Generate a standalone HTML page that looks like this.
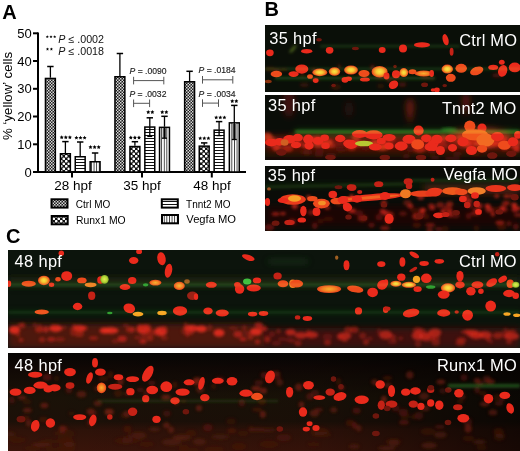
<!DOCTYPE html><html><head><meta charset="utf-8"><style>html,body{margin:0;padding:0;background:#fff;}svg{display:block;}</style></head><body>
<svg width="520" height="451" viewBox="0 0 520 451">
<defs><filter id="blur" x="-20%" y="-20%" width="140%" height="140%"><feGaussianBlur stdDeviation="0.6"/></filter><radialGradient id="yg"><stop offset="0" stop-color="#f8e444"/><stop offset="0.4" stop-color="#f4c834"/><stop offset="0.75" stop-color="#f08024"/><stop offset="1" stop-color="#e8381c"/></radialGradient><radialGradient id="og"><stop offset="0" stop-color="#f8b030"/><stop offset="0.6" stop-color="#f27a22"/><stop offset="1" stop-color="#e8401c"/></radialGradient><radialGradient id="gg"><stop offset="0" stop-color="#e0ec50"/><stop offset="0.6" stop-color="#b8d838"/><stop offset="1" stop-color="#80a828"/></radialGradient><filter id="blur15" x="-20%" y="-20%" width="140%" height="140%"><feGaussianBlur stdDeviation="1.5"/></filter><filter id="blur2" x="-20%" y="-20%" width="140%" height="140%"><feGaussianBlur stdDeviation="3"/></filter></defs>
<rect width="520" height="451" fill="#fff"/>
<defs>
<pattern id="pc" width="3" height="3" patternUnits="userSpaceOnUse"><rect width="3" height="3" fill="#1a1a1a"/><rect x="0" y="0" width="1.5" height="1.5" fill="#d8d8d8"/><rect x="1.5" y="1.5" width="1.5" height="1.5" fill="#d8d8d8"/></pattern>
<pattern id="pr" width="5" height="5" patternUnits="userSpaceOnUse"><rect width="5" height="5" fill="#111"/><circle cx="1.25" cy="1.25" r="1.35" fill="#fff"/><circle cx="3.75" cy="3.75" r="1.35" fill="#fff"/></pattern>
<pattern id="pt" width="3" height="3" patternUnits="userSpaceOnUse"><rect width="3" height="3" fill="#fff"/><rect x="0" y="0" width="3" height="1" fill="#111"/></pattern>
<pattern id="pv" width="2.6" height="3" patternUnits="userSpaceOnUse"><rect width="2.6" height="3" fill="#fff"/><rect x="0" y="0" width="0.9" height="3" fill="#333"/></pattern>
</defs>
<text x="2.2" y="18.5" font-family='"Liberation Sans", sans-serif' font-weight="bold" font-size="20" fill="#000">A</text>
<line x1="38" y1="32.5" x2="38" y2="173" stroke="#000" stroke-width="2"/>
<line x1="37" y1="172" x2="246" y2="172" stroke="#000" stroke-width="2"/>
<line x1="33" y1="33.3" x2="38" y2="33.3" stroke="#000" stroke-width="2"/>
<text x="31.8" y="37.9" text-anchor="end" font-family='"Liberation Sans", sans-serif' font-size="13" fill="#000">50</text>
<line x1="33" y1="61.0" x2="38" y2="61.0" stroke="#000" stroke-width="2"/>
<text x="31.8" y="65.6" text-anchor="end" font-family='"Liberation Sans", sans-serif' font-size="13" fill="#000">40</text>
<line x1="33" y1="88.8" x2="38" y2="88.8" stroke="#000" stroke-width="2"/>
<text x="31.8" y="93.39999999999999" text-anchor="end" font-family='"Liberation Sans", sans-serif' font-size="13" fill="#000">30</text>
<line x1="33" y1="116.5" x2="38" y2="116.5" stroke="#000" stroke-width="2"/>
<text x="31.8" y="121.1" text-anchor="end" font-family='"Liberation Sans", sans-serif' font-size="13" fill="#000">20</text>
<line x1="33" y1="144.3" x2="38" y2="144.3" stroke="#000" stroke-width="2"/>
<text x="31.8" y="148.9" text-anchor="end" font-family='"Liberation Sans", sans-serif' font-size="13" fill="#000">10</text>
<line x1="33" y1="172" x2="38" y2="172" stroke="#000" stroke-width="2"/>
<text x="31.8" y="176.6" text-anchor="end" font-family='"Liberation Sans", sans-serif' font-size="13" fill="#000">0</text>
<line x1="72" y1="172" x2="72" y2="177.5" stroke="#000" stroke-width="2"/>
<line x1="142" y1="172" x2="142" y2="177.5" stroke="#000" stroke-width="2"/>
<line x1="211.8" y1="172" x2="211.8" y2="177.5" stroke="#000" stroke-width="2"/>
<text x="73" y="190.3" text-anchor="middle" font-family='"Liberation Sans", sans-serif' font-size="13.5" fill="#000">28 hpf</text>
<text x="142" y="190.3" text-anchor="middle" font-family='"Liberation Sans", sans-serif' font-size="13.5" fill="#000">35 hpf</text>
<text x="212" y="190.3" text-anchor="middle" font-family='"Liberation Sans", sans-serif' font-size="13.5" fill="#000">48 hpf</text>
<text transform="translate(12.4,96) rotate(-90)" text-anchor="middle" font-family='"Liberation Sans", sans-serif' font-size="13.3" fill="#000">%  ‘yellow’ cells</text>
<line x1="50.400000000000006" y1="66.5" x2="50.400000000000006" y2="77.7" stroke="#000" stroke-width="1.3"/>
<line x1="47.2" y1="66.5" x2="53.60000000000001" y2="66.5" stroke="#000" stroke-width="1.5"/>
<rect x="45.45" y="78.45" width="9.9" height="93.55" fill="url(#pc)" stroke="#000" stroke-width="1.5"/>
<line x1="65.4" y1="141.6" x2="65.4" y2="153" stroke="#000" stroke-width="1.3"/>
<line x1="62.2" y1="141.6" x2="68.60000000000001" y2="141.6" stroke="#000" stroke-width="1.5"/>
<rect x="60.45" y="153.75" width="9.9" height="18.25" fill="url(#pr)" stroke="#000" stroke-width="1.5"/>
<line x1="80.2" y1="142" x2="80.2" y2="156" stroke="#000" stroke-width="1.3"/>
<line x1="77.0" y1="142" x2="83.4" y2="142" stroke="#000" stroke-width="1.5"/>
<rect x="75.25" y="156.75" width="9.9" height="15.25" fill="url(#pt)" stroke="#000" stroke-width="1.5"/>
<line x1="95.10000000000001" y1="153" x2="95.10000000000001" y2="161" stroke="#000" stroke-width="1.3"/>
<line x1="91.9" y1="153" x2="98.30000000000001" y2="153" stroke="#000" stroke-width="1.5"/>
<rect x="90.15" y="161.75" width="9.9" height="10.25" fill="url(#pv)" stroke="#000" stroke-width="1.5"/>
<line x1="119.9" y1="53.5" x2="119.9" y2="76" stroke="#000" stroke-width="1.3"/>
<line x1="116.7" y1="53.5" x2="123.10000000000001" y2="53.5" stroke="#000" stroke-width="1.5"/>
<rect x="114.95" y="76.75" width="9.9" height="95.25" fill="url(#pc)" stroke="#000" stroke-width="1.5"/>
<line x1="134.89999999999998" y1="141.7" x2="134.89999999999998" y2="145.8" stroke="#000" stroke-width="1.3"/>
<line x1="131.7" y1="141.7" x2="138.09999999999997" y2="141.7" stroke="#000" stroke-width="1.5"/>
<rect x="129.95" y="146.55" width="9.9" height="25.44999999999999" fill="url(#pr)" stroke="#000" stroke-width="1.5"/>
<line x1="149.79999999999998" y1="117.8" x2="149.79999999999998" y2="126.3" stroke="#000" stroke-width="1.3"/>
<line x1="146.6" y1="117.8" x2="152.99999999999997" y2="117.8" stroke="#000" stroke-width="1.5"/>
<rect x="144.85" y="127.05" width="9.9" height="44.95" fill="url(#pt)" stroke="#000" stroke-width="1.5"/>
<line x1="149.79999999999998" y1="126.3" x2="149.79999999999998" y2="136.4" stroke="#000" stroke-width="1.3"/>
<line x1="147.29999999999998" y1="136.4" x2="152.29999999999998" y2="136.4" stroke="#000" stroke-width="1.3"/>
<line x1="164.5" y1="116.3" x2="164.5" y2="126.6" stroke="#000" stroke-width="1.3"/>
<line x1="161.3" y1="116.3" x2="167.7" y2="116.3" stroke="#000" stroke-width="1.5"/>
<rect x="159.55" y="127.35" width="9.9" height="44.650000000000006" fill="url(#pv)" stroke="#000" stroke-width="1.5"/>
<rect x="162.7" y="128.1" width="3.6" height="10.099999999999994" fill="#666"/>
<line x1="164.5" y1="126.6" x2="164.5" y2="138.2" stroke="#000" stroke-width="1.3"/>
<line x1="162.0" y1="138.2" x2="167.0" y2="138.2" stroke="#000" stroke-width="1.3"/>
<line x1="189.6" y1="71.3" x2="189.6" y2="81" stroke="#000" stroke-width="1.3"/>
<line x1="186.4" y1="71.3" x2="192.79999999999998" y2="71.3" stroke="#000" stroke-width="1.5"/>
<rect x="184.65" y="81.75" width="9.9" height="90.25" fill="url(#pc)" stroke="#000" stroke-width="1.5"/>
<line x1="204.2" y1="142.9" x2="204.2" y2="145.4" stroke="#000" stroke-width="1.3"/>
<line x1="201.0" y1="142.9" x2="207.39999999999998" y2="142.9" stroke="#000" stroke-width="1.5"/>
<rect x="199.25" y="146.15" width="9.9" height="25.849999999999994" fill="url(#pr)" stroke="#000" stroke-width="1.5"/>
<line x1="219.1" y1="121.6" x2="219.1" y2="129.4" stroke="#000" stroke-width="1.3"/>
<line x1="215.9" y1="121.6" x2="222.29999999999998" y2="121.6" stroke="#000" stroke-width="1.5"/>
<rect x="214.15" y="130.15" width="9.9" height="41.849999999999994" fill="url(#pt)" stroke="#000" stroke-width="1.5"/>
<line x1="219.1" y1="129.4" x2="219.1" y2="135.6" stroke="#000" stroke-width="1.3"/>
<line x1="216.6" y1="135.6" x2="221.6" y2="135.6" stroke="#000" stroke-width="1.3"/>
<line x1="234.29999999999998" y1="105.4" x2="234.29999999999998" y2="122.1" stroke="#000" stroke-width="1.3"/>
<line x1="231.1" y1="105.4" x2="237.49999999999997" y2="105.4" stroke="#000" stroke-width="1.5"/>
<rect x="229.35" y="122.85" width="9.9" height="49.150000000000006" fill="url(#pv)" stroke="#000" stroke-width="1.5"/>
<rect x="232.49999999999997" y="123.6" width="3.6" height="15.900000000000006" fill="#666"/>
<line x1="234.29999999999998" y1="122.1" x2="234.29999999999998" y2="139.5" stroke="#000" stroke-width="1.3"/>
<line x1="231.79999999999998" y1="139.5" x2="236.79999999999998" y2="139.5" stroke="#000" stroke-width="1.3"/>
<polygon points="61.70,135.30 62.32,136.55 63.70,136.75 62.70,137.72 62.93,139.10 61.70,138.45 60.47,139.10 60.70,137.72 59.70,136.75 61.08,136.55" fill="#000"/>
<polygon points="65.80,135.30 66.42,136.55 67.80,136.75 66.80,137.72 67.03,139.10 65.80,138.45 64.57,139.10 64.80,137.72 63.80,136.75 65.18,136.55" fill="#000"/>
<polygon points="69.90,135.30 70.52,136.55 71.90,136.75 70.90,137.72 71.13,139.10 69.90,138.45 68.67,139.10 68.90,137.72 67.90,136.75 69.28,136.55" fill="#000"/>
<polygon points="76.40,135.70 77.02,136.95 78.40,137.15 77.40,138.12 77.63,139.50 76.40,138.85 75.17,139.50 75.40,138.12 74.40,137.15 75.78,136.95" fill="#000"/>
<polygon points="80.50,135.70 81.12,136.95 82.50,137.15 81.50,138.12 81.73,139.50 80.50,138.85 79.27,139.50 79.50,138.12 78.50,137.15 79.88,136.95" fill="#000"/>
<polygon points="84.60,135.70 85.22,136.95 86.60,137.15 85.60,138.12 85.83,139.50 84.60,138.85 83.37,139.50 83.60,138.12 82.60,137.15 83.98,136.95" fill="#000"/>
<polygon points="90.50,145.10 91.12,146.35 92.50,146.55 91.50,147.52 91.73,148.90 90.50,148.25 89.27,148.90 89.50,147.52 88.50,146.55 89.88,146.35" fill="#000"/>
<polygon points="94.60,145.10 95.22,146.35 96.60,146.55 95.60,147.52 95.83,148.90 94.60,148.25 93.37,148.90 93.60,147.52 92.60,146.55 93.98,146.35" fill="#000"/>
<polygon points="98.70,145.10 99.32,146.35 100.70,146.55 99.70,147.52 99.93,148.90 98.70,148.25 97.47,148.90 97.70,147.52 96.70,146.55 98.08,146.35" fill="#000"/>
<polygon points="130.80,135.60 131.42,136.85 132.80,137.05 131.80,138.02 132.03,139.40 130.80,138.75 129.57,139.40 129.80,138.02 128.80,137.05 130.18,136.85" fill="#000"/>
<polygon points="134.90,135.60 135.52,136.85 136.90,137.05 135.90,138.02 136.13,139.40 134.90,138.75 133.67,139.40 133.90,138.02 132.90,137.05 134.28,136.85" fill="#000"/>
<polygon points="139.00,135.60 139.62,136.85 141.00,137.05 140.00,138.02 140.23,139.40 139.00,138.75 137.77,139.40 138.00,138.02 137.00,137.05 138.38,136.85" fill="#000"/>
<polygon points="148.25,110.10 148.87,111.35 150.25,111.55 149.25,112.52 149.48,113.90 148.25,113.25 147.02,113.90 147.25,112.52 146.25,111.55 147.63,111.35" fill="#000"/>
<polygon points="152.35,110.10 152.97,111.35 154.35,111.55 153.35,112.52 153.58,113.90 152.35,113.25 151.12,113.90 151.35,112.52 150.35,111.55 151.73,111.35" fill="#000"/>
<polygon points="162.25,110.10 162.87,111.35 164.25,111.55 163.25,112.52 163.48,113.90 162.25,113.25 161.02,113.90 161.25,112.52 160.25,111.55 161.63,111.35" fill="#000"/>
<polygon points="166.35,110.10 166.97,111.35 168.35,111.55 167.35,112.52 167.58,113.90 166.35,113.25 165.12,113.90 165.35,112.52 164.35,111.55 165.73,111.35" fill="#000"/>
<polygon points="200.20,136.20 200.82,137.45 202.20,137.65 201.20,138.62 201.43,140.00 200.20,139.35 198.97,140.00 199.20,138.62 198.20,137.65 199.58,137.45" fill="#000"/>
<polygon points="204.30,136.20 204.92,137.45 206.30,137.65 205.30,138.62 205.53,140.00 204.30,139.35 203.07,140.00 203.30,138.62 202.30,137.65 203.68,137.45" fill="#000"/>
<polygon points="208.40,136.20 209.02,137.45 210.40,137.65 209.40,138.62 209.63,140.00 208.40,139.35 207.17,140.00 207.40,138.62 206.40,137.65 207.78,137.45" fill="#000"/>
<polygon points="216.20,115.40 216.82,116.65 218.20,116.85 217.20,117.82 217.43,119.20 216.20,118.55 214.97,119.20 215.20,117.82 214.20,116.85 215.58,116.65" fill="#000"/>
<polygon points="220.30,115.40 220.92,116.65 222.30,116.85 221.30,117.82 221.53,119.20 220.30,118.55 219.07,119.20 219.30,117.82 218.30,116.85 219.68,116.65" fill="#000"/>
<polygon points="224.40,115.40 225.02,116.65 226.40,116.85 225.40,117.82 225.63,119.20 224.40,118.55 223.17,119.20 223.40,117.82 222.40,116.85 223.78,116.65" fill="#000"/>
<polygon points="232.25,99.10 232.87,100.35 234.25,100.55 233.25,101.52 233.48,102.90 232.25,102.25 231.02,102.90 231.25,101.52 230.25,100.55 231.63,100.35" fill="#000"/>
<polygon points="236.35,99.10 236.97,100.35 238.35,100.55 237.35,101.52 237.58,102.90 236.35,102.25 235.12,102.90 235.35,101.52 234.35,100.55 235.73,100.35" fill="#000"/>
<text x="129.6" y="74.0" font-family='"Liberation Sans", sans-serif' font-size="8.6" fill="#222" stroke="#222" stroke-width="0.15"><tspan font-style="italic">P</tspan> = .0090</text>
<text x="129.4" y="96.6" font-family='"Liberation Sans", sans-serif' font-size="8.6" fill="#222" stroke="#222" stroke-width="0.15"><tspan font-style="italic">P</tspan> = .0032</text>
<text x="198.6" y="73.2" font-family='"Liberation Sans", sans-serif' font-size="8.6" fill="#222" stroke="#222" stroke-width="0.15"><tspan font-style="italic">P</tspan> = .0184</text>
<text x="198.6" y="96.5" font-family='"Liberation Sans", sans-serif' font-size="8.6" fill="#222" stroke="#222" stroke-width="0.15"><tspan font-style="italic">P</tspan> = .0034</text>
<path d="M133.6 76.8V84.39999999999999M133.6 80.6H163.8M163.8 76.8V84.39999999999999" stroke="#555" stroke-width="1" fill="none"/>
<path d="M133.6 99.5V107.1M133.6 103.3H149.6M149.6 99.5V107.1" stroke="#555" stroke-width="1" fill="none"/>
<path d="M202.5 76.0V83.6M202.5 79.8H232.8M232.8 76.0V83.6" stroke="#555" stroke-width="1" fill="none"/>
<path d="M202.5 99.3V106.89999999999999M202.5 103.1H218.5M218.5 99.3V106.89999999999999" stroke="#555" stroke-width="1" fill="none"/>
<polygon points="47.30,35.20 47.77,36.15 48.82,36.31 48.06,37.05 48.24,38.09 47.30,37.60 46.36,38.09 46.54,37.05 45.78,36.31 46.83,36.15" fill="#000"/>
<polygon points="51.00,35.20 51.47,36.15 52.52,36.31 51.76,37.05 51.94,38.09 51.00,37.60 50.06,38.09 50.24,37.05 49.48,36.31 50.53,36.15" fill="#000"/>
<polygon points="54.70,35.20 55.17,36.15 56.22,36.31 55.46,37.05 55.64,38.09 54.70,37.60 53.76,38.09 53.94,37.05 53.18,36.31 54.23,36.15" fill="#000"/>
<polygon points="47.50,47.50 47.97,48.45 49.02,48.61 48.26,49.35 48.44,50.39 47.50,49.90 46.56,50.39 46.74,49.35 45.98,48.61 47.03,48.45" fill="#000"/>
<polygon points="51.40,47.50 51.87,48.45 52.92,48.61 52.16,49.35 52.34,50.39 51.40,49.90 50.46,50.39 50.64,49.35 49.88,48.61 50.93,48.45" fill="#000"/>
<text x="58.3" y="42.5" font-family='"Liberation Sans", sans-serif' font-size="10.7" fill="#111"><tspan font-style="italic">P</tspan> ≤ .0002</text>
<text x="58.3" y="54.9" font-family='"Liberation Sans", sans-serif' font-size="10.7" fill="#111"><tspan font-style="italic">P</tspan> ≤ .0018</text>
<rect x="51.5" y="199.3" width="16" height="8.3" fill="url(#pc)" stroke="#000" stroke-width="2"/>
<text x="75.8" y="207.5" font-family='"Liberation Sans", sans-serif' font-size="10" fill="#000">Ctrl MO</text>
<rect x="51.7" y="216" width="16" height="8.3" fill="url(#pr)" stroke="#000" stroke-width="2"/>
<text x="76.0" y="224.2" font-family='"Liberation Sans", sans-serif' font-size="10.4" fill="#000">Runx1 MO</text>
<rect x="161.8" y="199.3" width="16" height="8.3" fill="url(#pt)" stroke="#000" stroke-width="2"/>
<text x="186.10000000000002" y="207.5" font-family='"Liberation Sans", sans-serif' font-size="10" fill="#000">Tnnt2 MO</text>
<rect x="162" y="215" width="16" height="8.3" fill="url(#pv)" stroke="#000" stroke-width="2"/>
<text x="186.3" y="223.2" font-family='"Liberation Sans", sans-serif' font-size="11.2" fill="#000">Vegfa MO</text>
<text x="264.6" y="15.7" font-family='"Liberation Sans", sans-serif' font-weight="bold" font-size="20" fill="#000">B</text>
<text x="6.0" y="242.8" font-family='"Liberation Sans", sans-serif' font-weight="bold" font-size="20" fill="#000">C</text>
<svg x="265" y="25" width="255" height="67" viewBox="0 0 255 67" overflow="hidden">
<rect width="255" height="67" fill="#0a0f08"/>
<g filter="url(#blur15)"><rect x="55" y="20.5" width="140" height="1.6" fill="#3a8a2a" opacity="0.45"/><rect x="10" y="52" width="160" height="3" fill="#2a6a20" opacity="0.25"/><ellipse cx="115.4" cy="52.3" rx="4.8" ry="2.2" fill="#8a1a10" opacity="0.36"/><ellipse cx="130.5" cy="53.9" rx="4.4" ry="1.6" fill="#6a140c" opacity="0.34"/><ellipse cx="137.4" cy="59.6" rx="3.9" ry="2.4" fill="#6a140c" opacity="0.59"/><ellipse cx="166.8" cy="53.5" rx="2.5" ry="1.5" fill="#8a1a10" opacity="0.32"/><ellipse cx="48.5" cy="45.3" rx="2.1" ry="2.2" fill="#6a140c" opacity="0.48"/><ellipse cx="49.8" cy="45.1" rx="2.9" ry="1.5" fill="#8a1a10" opacity="0.44"/><ellipse cx="70.9" cy="61.9" rx="5.0" ry="2.8" fill="#6a140c" opacity="0.39"/><ellipse cx="58.6" cy="46.4" rx="2.2" ry="2.6" fill="#6a140c" opacity="0.33"/><ellipse cx="74.2" cy="41.5" rx="2.1" ry="2.5" fill="#8a1a10" opacity="0.36"/><ellipse cx="232.1" cy="50.3" rx="4.9" ry="2.1" fill="#8a1a10" opacity="0.47"/><ellipse cx="50.6" cy="54.8" rx="3.0" ry="2.0" fill="#8a1a10" opacity="0.59"/><ellipse cx="193.3" cy="42.6" rx="2.7" ry="1.7" fill="#8a1a10" opacity="0.44"/><ellipse cx="124.1" cy="55.0" rx="2.6" ry="2.3" fill="#8a1a10" opacity="0.43"/><ellipse cx="97.9" cy="48.7" rx="5.0" ry="1.5" fill="#6a140c" opacity="0.60"/><ellipse cx="5.0" cy="44.1" rx="5.0" ry="2.4" fill="#8a1a10" opacity="0.31"/><ellipse cx="37.3" cy="49.7" rx="2.0" ry="2.4" fill="#6a140c" opacity="0.42"/><ellipse cx="18.9" cy="44.6" rx="3.9" ry="1.5" fill="#6a140c" opacity="0.41"/><ellipse cx="115.6" cy="61.1" rx="3.5" ry="2.4" fill="#6a140c" opacity="0.35"/><ellipse cx="39.3" cy="60.0" rx="4.5" ry="1.9" fill="#8a1a10" opacity="0.35"/><ellipse cx="160.4" cy="52.2" rx="4.1" ry="2.1" fill="#6a140c" opacity="0.48"/><ellipse cx="107.5" cy="42.3" rx="2.1" ry="2.9" fill="#8a1a10" opacity="0.52"/><ellipse cx="99.9" cy="49.3" rx="4.7" ry="2.2" fill="#8a1a10" opacity="0.58"/><ellipse cx="249.2" cy="42.8" rx="3.4" ry="2.5" fill="#8a1a10" opacity="0.38"/><ellipse cx="233.9" cy="44.5" rx="2.0" ry="1.9" fill="#6a140c" opacity="0.37"/><ellipse cx="11.9" cy="46.2" rx="3.6" ry="3.0" fill="#8a1a10" opacity="0.41"/></g>
<g filter="url(#blur)">
<ellipse cx="4.9" cy="27.8" rx="3.7949999999999995" ry="3.3349999999999995" fill="#ea2a1c"/>
<ellipse cx="41.7" cy="26.2" rx="5.635" ry="2.3" fill="#ea2a1c"/>
<ellipse cx="64.6" cy="25.3" rx="3.7949999999999995" ry="3.3349999999999995" fill="#ea2a1c"/>
<ellipse cx="54" cy="14.7" rx="2.875" ry="1.7249999999999999" fill="#6e180e"/>
<ellipse cx="11.4" cy="49" rx="5.75" ry="3.3349999999999995" fill="#ee4c1c"/>
<ellipse cx="28.6" cy="49" rx="5.175" ry="2.875" fill="#ea2a1c"/>
<ellipse cx="36.8" cy="44.1" rx="6.555" ry="4.6" fill="#ea2a1c"/>
<ellipse cx="45" cy="51.5" rx="2.875" ry="2.3" fill="#ee4c1c"/>
<ellipse cx="54.8" cy="47.4" rx="7.475" ry="3.7949999999999995" fill="url(#yg)"/>
<ellipse cx="69.5" cy="46.6" rx="5.75" ry="4.255" fill="url(#yg)"/>
<ellipse cx="50.7" cy="55.6" rx="2.875" ry="2.3" fill="#ea2a1c"/>
<ellipse cx="80" cy="54.8" rx="3.4499999999999997" ry="2.875" fill="#ea2a1c"/>
<ellipse cx="68.6" cy="60.5" rx="2.3" ry="1.7249999999999999" fill="#6e180e"/>
<ellipse cx="3.3" cy="56.4" rx="3.4499999999999997" ry="1.7249999999999999" fill="#8a3010"/>
<ellipse cx="90.4" cy="23.4" rx="3.4499999999999997" ry="1.7249999999999999" fill="#6e180e"/>
<ellipse cx="117.2" cy="25.1" rx="3.4499999999999997" ry="2.9899999999999998" fill="#ea2a1c"/>
<ellipse cx="138" cy="23.4" rx="4.0249999999999995" ry="4.0249999999999995" fill="#ea2a1c"/>
<ellipse cx="157" cy="19.9" rx="8.049999999999999" ry="2.53" fill="#ea2a1c"/>
<ellipse cx="86" cy="45" rx="6.8999999999999995" ry="4.484999999999999" fill="url(#yg)"/>
<ellipse cx="99" cy="48.5" rx="5.52" ry="3.4499999999999997" fill="#ee4c1c"/>
<ellipse cx="99.9" cy="54.5" rx="4.944999999999999" ry="2.07" fill="#ea2a1c"/>
<ellipse cx="83.5" cy="53.7" rx="3.4499999999999997" ry="2.3" fill="#ea2a1c"/>
<ellipse cx="114.6" cy="46.7" rx="8.049999999999999" ry="5.75" fill="url(#yg)"/>
<ellipse cx="121.5" cy="51" rx="2.9899999999999998" ry="3.4499999999999997" fill="#ea2a1c"/>
<ellipse cx="131" cy="49.3" rx="4.0249999999999995" ry="4.0249999999999995" fill="#ea2a1c"/>
<ellipse cx="138.8" cy="47.6" rx="4.484999999999999" ry="4.484999999999999" fill="url(#yg)"/>
<ellipse cx="147.5" cy="46.7" rx="4.0249999999999995" ry="2.53" fill="#ee4c1c"/>
<ellipse cx="158.7" cy="48.5" rx="8.969999999999999" ry="2.9899999999999998" fill="url(#og)"/>
<ellipse cx="128.5" cy="59.7" rx="4.944999999999999" ry="4.0249999999999995" fill="#ea2a1c" transform="rotate(-30 128.5 59.7)"/>
<ellipse cx="130" cy="41.5" rx="1.7249999999999999" ry="1.7249999999999999" fill="#6e180e"/>
<ellipse cx="159.6" cy="59.7" rx="3.4499999999999997" ry="2.3" fill="#6e180e"/>
<ellipse cx="168" cy="65" rx="2.3" ry="1.7249999999999999" fill="#ea2a1c"/>
<ellipse cx="180.6" cy="14.7" rx="2.875" ry="5.75" fill="#ea2a1c" transform="rotate(-15 180.6 14.7)"/>
<ellipse cx="186.6" cy="26.8" rx="1.9549999999999998" ry="4.0249999999999995" fill="#c42016"/>
<ellipse cx="182.3" cy="44.1" rx="5.75" ry="4.484999999999999" fill="url(#yg)"/>
<ellipse cx="196.2" cy="43.3" rx="5.75" ry="4.484999999999999" fill="#ee4c1c"/>
<ellipse cx="211.7" cy="45.9" rx="6.8999999999999995" ry="4.0249999999999995" fill="#ee4c1c" transform="rotate(-20 211.7 45.9)"/>
<ellipse cx="228.2" cy="42.4" rx="4.944999999999999" ry="2.53" fill="#ea2a1c"/>
<ellipse cx="236.8" cy="37.2" rx="2.875" ry="2.53" fill="#ea2a1c"/>
<ellipse cx="237.7" cy="45.9" rx="4.484999999999999" ry="5.9799999999999995" fill="#ea2a1c" transform="rotate(20 237.7 45.9)"/>
<ellipse cx="249.8" cy="42.4" rx="5.9799999999999995" ry="4.944999999999999" fill="#ea2a1c"/>
<ellipse cx="185.8" cy="52.8" rx="4.944999999999999" ry="4.0249999999999995" fill="#ee4c1c"/>
<ellipse cx="171.9" cy="64.9" rx="2.875" ry="2.3" fill="#ea2a1c"/>
<ellipse cx="179.7" cy="60.6" rx="2.3" ry="1.7249999999999999" fill="#6e180e"/>
<ellipse cx="166.7" cy="48.5" rx="2.3" ry="3.4499999999999997" fill="#ea2a1c"/>
</g>
<g filter="url(#blur15)" style="mix-blend-mode:screen"><rect x="10" y="52" width="160" height="2" fill="#1a6a18" opacity="0.4"/><rect x="0" y="43" width="255" height="1.6" fill="#2a8a22" opacity="0.45"/><ellipse cx="28" cy="24" rx="1.5" ry="5" fill="#6a8a20" opacity="0.6" transform="rotate(40 28 24)"/></g>
<text x="4.2" y="18.6" font-family='"Liberation Sans", sans-serif' font-size="16.4" letter-spacing="0.35" fill="#fff">35 hpf</text>
<text x="252.2" y="20.6" text-anchor="end" font-family='"Liberation Sans", sans-serif' font-size="16.4" letter-spacing="0.2" fill="#fff">Ctrl MO</text>
</svg>
<svg x="265" y="95" width="255" height="65" viewBox="0 0 255 65" overflow="hidden">
<rect width="255" height="65" fill="#0a0d08"/>
<g filter="url(#blur2)"><ellipse cx="24" cy="8" rx="6" ry="14" fill="#5a1410" opacity="0.7"/><ellipse cx="145" cy="12" rx="4" ry="9" fill="#6a1a12" opacity="0.8"/><ellipse cx="201" cy="4" rx="4" ry="5" fill="#6a1a12" opacity="0.7"/><ellipse cx="84" cy="14" rx="4" ry="8" fill="#3a1010" opacity="0.6"/><rect x="30" y="36" width="225" height="2.5" fill="#2a8a22" opacity="0.8"/><rect x="0" y="50" width="255" height="12" fill="#3a0e08" opacity="0.7"/><rect x="0" y="41" width="255" height="12" fill="#8a1a10" opacity="0.8"/><ellipse cx="215" cy="42" rx="30" ry="9" fill="#b8321a" opacity="0.8"/><ellipse cx="145" cy="16" rx="3" ry="12" fill="#7a1a12" opacity="0.8"/><ellipse cx="201" cy="10" rx="3" ry="10" fill="#7a1a12" opacity="0.7"/></g><g filter="url(#blur15)"><ellipse cx="121.0" cy="50.2" rx="5.3" ry="2.3" fill="#e02a18" opacity="0.90"/><ellipse cx="123.0" cy="50.0" rx="4.6" ry="3.7" fill="#e02a18" opacity="0.72"/><ellipse cx="168.6" cy="43.0" rx="4.5" ry="2.3" fill="#e02a18" opacity="0.52"/><ellipse cx="208.8" cy="42.0" rx="5.4" ry="2.7" fill="#c02216" opacity="0.82"/><ellipse cx="22.3" cy="53.9" rx="5.9" ry="3.3" fill="#e02a18" opacity="0.54"/><ellipse cx="251.7" cy="54.3" rx="3.4" ry="2.8" fill="#e02a18" opacity="0.72"/><ellipse cx="224.9" cy="48.8" rx="6.4" ry="3.8" fill="#e8401a" opacity="0.57"/><ellipse cx="208.0" cy="46.6" rx="4.5" ry="3.2" fill="#c02216" opacity="0.74"/><ellipse cx="138.0" cy="50.0" rx="3.3" ry="2.4" fill="#e8401a" opacity="0.60"/><ellipse cx="240.0" cy="53.1" rx="4.3" ry="2.6" fill="#c02216" opacity="0.59"/><ellipse cx="92.6" cy="48.2" rx="5.8" ry="3.0" fill="#e02a18" opacity="0.65"/><ellipse cx="219.1" cy="41.5" rx="3.1" ry="3.4" fill="#e02a18" opacity="0.66"/><ellipse cx="196.8" cy="42.4" rx="4.9" ry="2.4" fill="#e8401a" opacity="0.61"/><ellipse cx="110.5" cy="48.0" rx="5.1" ry="3.5" fill="#e8401a" opacity="0.68"/><ellipse cx="53.2" cy="44.9" rx="4.7" ry="3.9" fill="#c02216" opacity="0.60"/><ellipse cx="252.1" cy="47.5" rx="4.9" ry="2.4" fill="#e8401a" opacity="0.59"/><ellipse cx="154.8" cy="54.3" rx="6.2" ry="3.6" fill="#e02a18" opacity="0.60"/><ellipse cx="2.2" cy="41.6" rx="5.2" ry="4.0" fill="#e8401a" opacity="0.70"/><ellipse cx="6.1" cy="45.5" rx="5.8" ry="3.7" fill="#e8401a" opacity="0.55"/><ellipse cx="200.0" cy="48.0" rx="4.7" ry="2.7" fill="#e8401a" opacity="0.88"/><ellipse cx="228.1" cy="43.3" rx="4.0" ry="3.7" fill="#c02216" opacity="0.63"/><ellipse cx="219.9" cy="50.0" rx="4.6" ry="3.6" fill="#e8401a" opacity="0.61"/><ellipse cx="65.0" cy="50.6" rx="5.4" ry="2.3" fill="#c02216" opacity="0.67"/><ellipse cx="61.5" cy="47.1" rx="6.4" ry="3.1" fill="#e8401a" opacity="0.79"/><ellipse cx="238.8" cy="44.6" rx="3.1" ry="2.9" fill="#e02a18" opacity="0.86"/><ellipse cx="201.3" cy="49.1" rx="4.2" ry="2.7" fill="#e8401a" opacity="0.65"/><ellipse cx="41.0" cy="50.6" rx="3.5" ry="2.1" fill="#e02a18" opacity="0.86"/><ellipse cx="232.2" cy="48.5" rx="5.8" ry="2.8" fill="#e02a18" opacity="0.78"/><ellipse cx="48.2" cy="44.8" rx="5.8" ry="3.4" fill="#c02216" opacity="0.75"/><ellipse cx="31.8" cy="48.5" rx="5.5" ry="2.8" fill="#e02a18" opacity="0.53"/><ellipse cx="90.7" cy="42.2" rx="4.2" ry="3.4" fill="#e8401a" opacity="0.62"/><ellipse cx="177.4" cy="51.6" rx="5.3" ry="3.9" fill="#c02216" opacity="0.57"/><ellipse cx="53.3" cy="49.7" rx="4.7" ry="2.1" fill="#e8401a" opacity="0.64"/><ellipse cx="60.8" cy="45.6" rx="6.3" ry="2.0" fill="#c02216" opacity="0.65"/><ellipse cx="216.4" cy="50.6" rx="4.0" ry="3.0" fill="#e02a18" opacity="0.70"/><ellipse cx="178.0" cy="43.3" rx="4.6" ry="3.2" fill="#e8401a" opacity="0.60"/><ellipse cx="117.2" cy="53.0" rx="5.9" ry="2.5" fill="#e8401a" opacity="0.78"/><ellipse cx="201.9" cy="48.3" rx="4.5" ry="2.1" fill="#e02a18" opacity="0.72"/><ellipse cx="173.6" cy="45.9" rx="5.6" ry="2.6" fill="#c02216" opacity="0.86"/><ellipse cx="161.3" cy="43.4" rx="4.7" ry="3.6" fill="#e02a18" opacity="0.60"/><ellipse cx="11.7" cy="52.3" rx="4.0" ry="3.9" fill="#e8401a" opacity="0.61"/><ellipse cx="207.3" cy="52.1" rx="5.1" ry="2.3" fill="#c02216" opacity="0.76"/><ellipse cx="214.9" cy="49.5" rx="5.7" ry="2.8" fill="#e8401a" opacity="0.76"/><ellipse cx="86.7" cy="51.8" rx="4.7" ry="3.9" fill="#e02a18" opacity="0.57"/><ellipse cx="52.3" cy="44.6" rx="6.4" ry="3.0" fill="#e02a18" opacity="0.85"/><ellipse cx="166.5" cy="51.4" rx="5.5" ry="4.0" fill="#c02216" opacity="0.81"/><ellipse cx="219.0" cy="45.4" rx="6.1" ry="3.5" fill="#e02a18" opacity="0.72"/><ellipse cx="10.9" cy="52.3" rx="3.7" ry="2.4" fill="#c02216" opacity="0.87"/><ellipse cx="250.3" cy="51.8" rx="4.9" ry="2.0" fill="#e02a18" opacity="0.65"/><ellipse cx="127.1" cy="43.8" rx="3.3" ry="2.0" fill="#e02a18" opacity="0.82"/><ellipse cx="66.0" cy="60.2" rx="5.1" ry="2.8" fill="#5a140c" opacity="0.66"/><ellipse cx="169.9" cy="62.4" rx="4.9" ry="1.8" fill="#5a140c" opacity="0.61"/><ellipse cx="54.5" cy="55.5" rx="4.3" ry="2.8" fill="#5a140c" opacity="0.80"/><ellipse cx="212.8" cy="53.0" rx="5.4" ry="2.8" fill="#5a140c" opacity="0.73"/><ellipse cx="189.9" cy="63.4" rx="5.4" ry="1.9" fill="#5a140c" opacity="0.59"/><ellipse cx="192.5" cy="58.8" rx="4.3" ry="2.0" fill="#5a140c" opacity="0.66"/><ellipse cx="167.1" cy="56.2" rx="4.8" ry="2.5" fill="#5a140c" opacity="0.68"/><ellipse cx="141.3" cy="61.0" rx="3.4" ry="2.5" fill="#5a140c" opacity="0.61"/><ellipse cx="74.8" cy="54.2" rx="4.1" ry="2.1" fill="#5a140c" opacity="0.64"/><ellipse cx="100.9" cy="53.6" rx="4.5" ry="1.9" fill="#5a140c" opacity="0.75"/><ellipse cx="178.9" cy="53.6" rx="4.3" ry="2.4" fill="#5a140c" opacity="0.56"/><ellipse cx="183.3" cy="63.2" rx="3.1" ry="1.7" fill="#5a140c" opacity="0.66"/><ellipse cx="40.7" cy="57.0" rx="5.6" ry="2.8" fill="#5a140c" opacity="0.48"/><ellipse cx="217.7" cy="56.5" rx="5.1" ry="1.7" fill="#5a140c" opacity="0.69"/><ellipse cx="54.0" cy="59.4" rx="4.7" ry="2.4" fill="#5a140c" opacity="0.63"/><ellipse cx="145.3" cy="54.2" rx="3.6" ry="2.7" fill="#5a140c" opacity="0.76"/><ellipse cx="42.7" cy="57.1" rx="4.8" ry="2.7" fill="#5a140c" opacity="0.79"/><ellipse cx="210.5" cy="59.7" rx="4.6" ry="1.7" fill="#5a140c" opacity="0.45"/><ellipse cx="76.9" cy="55.2" rx="4.8" ry="1.6" fill="#5a140c" opacity="0.61"/><ellipse cx="217.2" cy="52.4" rx="4.0" ry="1.7" fill="#5a140c" opacity="0.49"/></g>
<g filter="url(#blur)">
<ellipse cx="6.5" cy="47.599999999999994" rx="6.5" ry="3.9000000000000004" fill="#ea2a1c"/>
<ellipse cx="14.7" cy="46.8" rx="5.2" ry="3.9000000000000004" fill="#ea2a1c"/>
<ellipse cx="24.5" cy="44.3" rx="6.5" ry="4.29" fill="#ea2a1c"/>
<ellipse cx="32.7" cy="42.699999999999996" rx="5.2" ry="3.9000000000000004" fill="#ea2a1c"/>
<ellipse cx="31" cy="50.0" rx="5.2" ry="3.25" fill="#ea2a1c"/>
<ellipse cx="43.3" cy="44.3" rx="5.2" ry="4.8100000000000005" fill="#ea2a1c"/>
<ellipse cx="44.1" cy="50.8" rx="4.55" ry="3.9000000000000004" fill="#ea2a1c"/>
<ellipse cx="53.1" cy="45.9" rx="5.2" ry="3.9000000000000004" fill="#ea2a1c"/>
<ellipse cx="59.7" cy="42.699999999999996" rx="4.29" ry="3.25" fill="#ea2a1c"/>
<ellipse cx="60.5" cy="50.8" rx="4.29" ry="3.25" fill="#ea2a1c"/>
<ellipse cx="75.2" cy="43.5" rx="5.2" ry="3.6399999999999997" fill="#ea2a1c"/>
<ellipse cx="83.4" cy="48.4" rx="5.2" ry="3.9000000000000004" fill="#ea2a1c"/>
<ellipse cx="19.6" cy="47.599999999999994" rx="3.9000000000000004" ry="3.25" fill="#d06020"/>
<ellipse cx="16.3" cy="57.4" rx="5.2" ry="3.25" fill="#6e180e"/>
<ellipse cx="65.4" cy="62.3" rx="5.2" ry="2.6" fill="#6e180e"/>
<ellipse cx="94.7" cy="39.0" rx="7.800000000000001" ry="3.9000000000000004" fill="#ea2a1c"/>
<ellipse cx="108.6" cy="39.9" rx="9.1" ry="4.55" fill="#ea2a1c"/>
<ellipse cx="124.1" cy="42.5" rx="6.5" ry="3.3800000000000003" fill="#ea2a1c"/>
<ellipse cx="86" cy="49.4" rx="6.5" ry="4.55" fill="#ea2a1c"/>
<ellipse cx="99" cy="48.5" rx="9.1" ry="2.8600000000000003" fill="#b8c830"/>
<ellipse cx="110.3" cy="52.0" rx="6.5" ry="3.3800000000000003" fill="#ea2a1c"/>
<ellipse cx="116.3" cy="45.9" rx="4.55" ry="3.25" fill="#ea2a1c"/>
<ellipse cx="124.1" cy="51.099999999999994" rx="4.55" ry="3.3800000000000003" fill="#ea2a1c"/>
<ellipse cx="136.2" cy="51.099999999999994" rx="6.5" ry="4.55" fill="#ea2a1c"/>
<ellipse cx="144" cy="44.199999999999996" rx="6.5" ry="4.55" fill="#ea2a1c"/>
<ellipse cx="153.6" cy="35.5" rx="5.07" ry="5.07" fill="#ea2a1c"/>
<ellipse cx="152.7" cy="49.4" rx="6.5" ry="5.07" fill="#ee4a1e"/>
<ellipse cx="161.3" cy="43.3" rx="5.2" ry="3.9000000000000004" fill="#ea2a1c"/>
<ellipse cx="164.8" cy="52.0" rx="5.2" ry="3.9000000000000004" fill="#ea2a1c"/>
<ellipse cx="168.3" cy="48.5" rx="5.2" ry="3.9000000000000004" fill="#ea2a1c"/>
<ellipse cx="119.8" cy="62.4" rx="5.2" ry="2.6" fill="#6e180e"/>
<ellipse cx="156" cy="62.4" rx="5.2" ry="2.6" fill="#6e180e"/>
<ellipse cx="204.8" cy="31.2" rx="5.59" ry="5.59" fill="#ee4c1c"/>
<ellipse cx="217" cy="33.0" rx="4.55" ry="4.55" fill="#ea2a1c"/>
<ellipse cx="210" cy="39.8" rx="13.0" ry="5.59" fill="#f2561c"/>
<ellipse cx="220.4" cy="45.099999999999994" rx="9.1" ry="6.5" fill="#f26a22"/>
<ellipse cx="232.5" cy="41.599999999999994" rx="6.5" ry="4.55" fill="#ea2a1c"/>
<ellipse cx="239.4" cy="50.3" rx="6.5" ry="4.55" fill="#ee4c1c"/>
<ellipse cx="248" cy="46.8" rx="5.2" ry="4.55" fill="#ea2a1c"/>
<ellipse cx="253" cy="39.8" rx="3.9000000000000004" ry="3.9000000000000004" fill="#ea2a1c"/>
<ellipse cx="171.9" cy="44.199999999999996" rx="5.59" ry="4.55" fill="#ea2a1c"/>
<ellipse cx="185.8" cy="43.3" rx="5.59" ry="3.9000000000000004" fill="#ea2a1c"/>
<ellipse cx="197.9" cy="46.8" rx="5.59" ry="4.55" fill="#ea2a1c"/>
<ellipse cx="168.5" cy="52.0" rx="3.9000000000000004" ry="3.9000000000000004" fill="#ea2a1c"/>
<ellipse cx="175.4" cy="55.5" rx="4.55" ry="4.55" fill="#ea2a1c"/>
<ellipse cx="187.5" cy="52.8" rx="4.55" ry="3.9000000000000004" fill="#ea2a1c"/>
<ellipse cx="206.5" cy="55.5" rx="5.59" ry="4.55" fill="#ea2a1c"/>
<ellipse cx="217" cy="53.8" rx="5.2" ry="3.9000000000000004" fill="#ee4c1c"/>
<ellipse cx="246.3" cy="58.8" rx="5.2" ry="3.25" fill="#6e180e"/>
<ellipse cx="227.3" cy="60.599999999999994" rx="5.2" ry="3.25" fill="#6e180e"/>
</g>
<g filter="url(#blur15)" style="mix-blend-mode:screen"><rect x="30" y="35.5" width="225" height="2.2" fill="#2a9a22" opacity="0.75"/><ellipse cx="184" cy="34" rx="8" ry="1.5" fill="#2a9a22" opacity="0.6"/></g>
<text x="3.0" y="15.6" font-family='"Liberation Sans", sans-serif' font-size="16.4" letter-spacing="0.35" fill="#fff">35 hpf</text>
<text x="251.4" y="18.6" text-anchor="end" font-family='"Liberation Sans", sans-serif' font-size="16.4" letter-spacing="0.2" fill="#fff">Tnnt2 MO</text>
</svg>
<svg x="265" y="166" width="255" height="65" viewBox="0 0 255 65" overflow="hidden">
<rect width="255" height="65" fill="#0a0c08"/>
<g filter="url(#blur2)"><rect x="0" y="18" width="255" height="2" fill="#1a4a1a" opacity="0.6"/><rect x="160" y="20" width="95" height="8" fill="#7a2810" opacity="0.6"/><rect x="0" y="40" width="255" height="20" fill="#2a0a06" opacity="0.6"/></g><g filter="url(#blur15)"><ellipse cx="246.1" cy="30.2" rx="3.5" ry="1.7" fill="#e02a1a" opacity="0.56"/><ellipse cx="224.3" cy="43.6" rx="3.7" ry="3.0" fill="#e02a1a" opacity="0.59"/><ellipse cx="118.9" cy="37.1" rx="2.8" ry="2.0" fill="#e02a1a" opacity="0.86"/><ellipse cx="203.4" cy="34.5" rx="3.8" ry="2.3" fill="#e02a1a" opacity="0.75"/><ellipse cx="214.4" cy="39.8" rx="2.9" ry="2.7" fill="#c82418" opacity="0.75"/><ellipse cx="237.2" cy="42.9" rx="2.8" ry="2.8" fill="#e02a1a" opacity="0.72"/><ellipse cx="241.0" cy="30.4" rx="2.3" ry="1.8" fill="#e02a1a" opacity="0.65"/><ellipse cx="126.2" cy="47.7" rx="2.2" ry="1.7" fill="#e02a1a" opacity="0.58"/><ellipse cx="185.0" cy="48.4" rx="2.6" ry="2.9" fill="#e02a1a" opacity="0.61"/><ellipse cx="241.8" cy="37.1" rx="2.5" ry="2.0" fill="#c82418" opacity="0.69"/><ellipse cx="121.5" cy="47.4" rx="3.6" ry="2.6" fill="#c82418" opacity="0.72"/><ellipse cx="29.4" cy="39.8" rx="2.8" ry="2.8" fill="#e02a1a" opacity="0.65"/><ellipse cx="10.6" cy="47.9" rx="3.9" ry="1.7" fill="#c82418" opacity="0.75"/><ellipse cx="222.5" cy="40.0" rx="3.0" ry="2.2" fill="#e02a1a" opacity="0.75"/><ellipse cx="117.9" cy="45.6" rx="3.2" ry="2.5" fill="#c82418" opacity="0.79"/><ellipse cx="155.8" cy="31.1" rx="3.5" ry="2.8" fill="#c82418" opacity="0.67"/><ellipse cx="157.7" cy="44.1" rx="3.2" ry="2.0" fill="#e02a1a" opacity="0.83"/><ellipse cx="227.8" cy="47.9" rx="2.0" ry="2.5" fill="#c82418" opacity="0.77"/><ellipse cx="231.7" cy="30.1" rx="2.5" ry="2.2" fill="#c82418" opacity="0.66"/><ellipse cx="62.2" cy="41.7" rx="3.0" ry="1.5" fill="#c82418" opacity="0.80"/><ellipse cx="86.7" cy="31.2" rx="2.3" ry="2.8" fill="#e02a1a" opacity="0.90"/><ellipse cx="184.6" cy="38.0" rx="3.7" ry="2.8" fill="#c82418" opacity="0.58"/><ellipse cx="87.6" cy="44.8" rx="3.1" ry="2.2" fill="#e02a1a" opacity="0.69"/><ellipse cx="201.0" cy="30.1" rx="3.6" ry="1.7" fill="#c82418" opacity="0.84"/><ellipse cx="167.2" cy="41.6" rx="3.1" ry="2.6" fill="#c82418" opacity="0.69"/><ellipse cx="249.9" cy="42.9" rx="3.3" ry="3.0" fill="#c82418" opacity="0.76"/><ellipse cx="211.8" cy="43.7" rx="3.8" ry="2.2" fill="#c82418" opacity="0.56"/><ellipse cx="85.9" cy="45.2" rx="2.7" ry="1.8" fill="#c82418" opacity="0.87"/><ellipse cx="177.8" cy="45.7" rx="2.2" ry="2.5" fill="#e02a1a" opacity="0.81"/><ellipse cx="18.0" cy="47.6" rx="2.9" ry="1.7" fill="#e02a1a" opacity="0.66"/><ellipse cx="156.5" cy="47.6" rx="2.7" ry="1.8" fill="#e02a1a" opacity="0.68"/><ellipse cx="145.2" cy="40.0" rx="3.0" ry="2.2" fill="#c82418" opacity="0.71"/><ellipse cx="43.6" cy="31.4" rx="2.5" ry="2.2" fill="#e02a1a" opacity="0.78"/><ellipse cx="249.3" cy="39.0" rx="2.8" ry="2.5" fill="#e02a1a" opacity="0.78"/><ellipse cx="253.5" cy="42.2" rx="2.9" ry="1.5" fill="#c82418" opacity="0.86"/><rect x="140" y="13.5" width="115" height="1.6" fill="#3a8a2a" opacity="0.45"/><path d="M0 21 L140 18" stroke="#4a7a2a" stroke-width="1.5" opacity="0.5"/><ellipse cx="27.2" cy="55.7" rx="4.1" ry="3.4" fill="#7a160e" opacity="0.59"/><ellipse cx="74.2" cy="38.0" rx="3.6" ry="2.7" fill="#7a160e" opacity="0.46"/><ellipse cx="231.8" cy="43.4" rx="4.7" ry="2.5" fill="#7a160e" opacity="0.44"/><ellipse cx="161.3" cy="50.5" rx="2.9" ry="3.0" fill="#7a160e" opacity="0.37"/><ellipse cx="166.2" cy="39.4" rx="3.3" ry="2.1" fill="#a01c12" opacity="0.64"/><ellipse cx="97.4" cy="52.3" rx="4.8" ry="3.3" fill="#a01c12" opacity="0.65"/><ellipse cx="175.2" cy="39.1" rx="4.0" ry="3.0" fill="#a01c12" opacity="0.65"/><ellipse cx="190.5" cy="49.6" rx="4.2" ry="2.4" fill="#c02216" opacity="0.39"/><ellipse cx="203.6" cy="50.0" rx="2.8" ry="3.2" fill="#a01c12" opacity="0.41"/><ellipse cx="30.2" cy="40.5" rx="3.5" ry="3.0" fill="#c02216" opacity="0.34"/><ellipse cx="122.5" cy="55.2" rx="3.8" ry="2.7" fill="#7a160e" opacity="0.48"/><ellipse cx="106.5" cy="59.1" rx="3.1" ry="2.6" fill="#7a160e" opacity="0.65"/><ellipse cx="239.5" cy="37.9" rx="2.9" ry="3.1" fill="#c02216" opacity="0.48"/><ellipse cx="210.5" cy="47.4" rx="5.0" ry="2.0" fill="#c02216" opacity="0.53"/><ellipse cx="239.5" cy="43.4" rx="3.3" ry="2.3" fill="#c02216" opacity="0.52"/><ellipse cx="203.4" cy="38.7" rx="2.7" ry="2.3" fill="#a01c12" opacity="0.69"/><ellipse cx="149.4" cy="43.9" rx="4.8" ry="2.5" fill="#7a160e" opacity="0.35"/><ellipse cx="243.9" cy="57.7" rx="2.5" ry="2.4" fill="#c02216" opacity="0.41"/><ellipse cx="63.4" cy="52.9" rx="4.8" ry="2.4" fill="#7a160e" opacity="0.31"/><ellipse cx="235.0" cy="56.8" rx="4.5" ry="2.2" fill="#c02216" opacity="0.64"/><ellipse cx="93.4" cy="46.8" rx="4.9" ry="2.8" fill="#7a160e" opacity="0.50"/><ellipse cx="242.8" cy="36.9" rx="4.1" ry="2.6" fill="#7a160e" opacity="0.34"/><ellipse cx="205.8" cy="39.6" rx="2.6" ry="3.4" fill="#a01c12" opacity="0.40"/><ellipse cx="114.1" cy="51.3" rx="3.5" ry="3.2" fill="#7a160e" opacity="0.58"/><ellipse cx="138.0" cy="47.7" rx="3.6" ry="2.1" fill="#c02216" opacity="0.37"/><ellipse cx="4.4" cy="61.4" rx="5.0" ry="3.3" fill="#7a160e" opacity="0.70"/><ellipse cx="151.8" cy="59.1" rx="4.3" ry="2.9" fill="#7a160e" opacity="0.41"/><ellipse cx="119.8" cy="62.1" rx="4.7" ry="2.1" fill="#c02216" opacity="0.56"/><ellipse cx="165.2" cy="59.0" rx="4.8" ry="2.1" fill="#a01c12" opacity="0.65"/><ellipse cx="211.4" cy="62.1" rx="2.7" ry="3.2" fill="#7a160e" opacity="0.32"/><ellipse cx="250.9" cy="60.8" rx="2.9" ry="3.3" fill="#7a160e" opacity="0.61"/><ellipse cx="126.3" cy="50.8" rx="3.2" ry="3.5" fill="#a01c12" opacity="0.41"/><ellipse cx="151.3" cy="50.2" rx="3.9" ry="3.2" fill="#c02216" opacity="0.70"/><ellipse cx="236.7" cy="61.2" rx="4.6" ry="2.6" fill="#7a160e" opacity="0.42"/><ellipse cx="184.8" cy="45.3" rx="3.1" ry="2.4" fill="#c02216" opacity="0.62"/><ellipse cx="180.0" cy="63.1" rx="3.8" ry="3.3" fill="#7a160e" opacity="0.31"/><ellipse cx="164.7" cy="64.0" rx="3.3" ry="2.6" fill="#c02216" opacity="0.47"/><ellipse cx="173.6" cy="63.1" rx="3.5" ry="2.3" fill="#a01c12" opacity="0.45"/><ellipse cx="182.5" cy="42.8" rx="4.5" ry="3.5" fill="#a01c12" opacity="0.63"/><ellipse cx="49.8" cy="59.8" rx="2.7" ry="3.2" fill="#7a160e" opacity="0.65"/><ellipse cx="142.4" cy="36.8" rx="4.2" ry="3.0" fill="#c02216" opacity="0.41"/><ellipse cx="253.6" cy="48.9" rx="4.7" ry="2.1" fill="#a01c12" opacity="0.58"/><ellipse cx="46.8" cy="46.4" rx="4.2" ry="2.6" fill="#c02216" opacity="0.45"/><ellipse cx="55.6" cy="55.1" rx="3.3" ry="2.8" fill="#7a160e" opacity="0.32"/><ellipse cx="155.5" cy="48.9" rx="4.8" ry="3.2" fill="#7a160e" opacity="0.66"/></g>
<g filter="url(#blur)">
<ellipse cx="27.8" cy="33.5" rx="13.0" ry="5.2" fill="#ea3a1c"/>
<ellipse cx="29.5" cy="32.5" rx="6.5" ry="3.25" fill="#f6a028"/>
<ellipse cx="18" cy="34.3" rx="5.2" ry="2.6" fill="#ea2a1c"/>
<ellipse cx="47.4" cy="32.7" rx="5.2" ry="2.6" fill="#ee4c1c"/>
<ellipse cx="56.4" cy="37.6" rx="8.450000000000001" ry="4.8100000000000005" fill="#ee4a1e"/>
<ellipse cx="57" cy="37" rx="3.9000000000000004" ry="2.3400000000000003" fill="#f39028"/>
<ellipse cx="67.8" cy="28.6" rx="4.29" ry="3.77" fill="#ea2a1c"/>
<ellipse cx="71.9" cy="35.1" rx="6.5" ry="3.25" fill="#ee4c1c"/>
<ellipse cx="80.1" cy="33.5" rx="7.15" ry="3.25" fill="#ee4c1c"/>
<ellipse cx="81.7" cy="40" rx="3.9000000000000004" ry="3.25" fill="#ea2a1c"/>
<ellipse cx="38.4" cy="45" rx="3.25" ry="5.2" fill="#ea2a1c"/>
<ellipse cx="51.5" cy="45.8" rx="3.9000000000000004" ry="4.29" fill="#ea2a1c"/>
<ellipse cx="36.8" cy="54" rx="4.29" ry="2.6" fill="#ea2a1c"/>
<ellipse cx="24.5" cy="56.4" rx="5.2" ry="2.6" fill="#c42016"/>
<ellipse cx="10.6" cy="57.2" rx="3.9000000000000004" ry="2.6" fill="#6e180e"/>
<ellipse cx="2.5" cy="36" rx="2.6" ry="3.9000000000000004" fill="#ea2a1c"/>
<ellipse cx="4" cy="22.9" rx="1.9500000000000002" ry="1.56" fill="#a05020"/>
<ellipse cx="73.5" cy="21.2" rx="3.9000000000000004" ry="1.9500000000000002" fill="#6e180e"/>
<ellipse cx="85" cy="21.2" rx="3.25" ry="2.6" fill="#c42016"/>
<ellipse cx="106" cy="31.5" rx="33.800000000000004" ry="3.3800000000000003" fill="#e8301c" transform="rotate(-4.5 106 31.5)"/>
<ellipse cx="106" cy="31.5" rx="28.6" ry="1.56" fill="#f06420" transform="rotate(-4.5 106 31.5)"/>
<ellipse cx="78" cy="34" rx="5.2" ry="3.9000000000000004" fill="#ea2a1c"/>
<ellipse cx="92" cy="33" rx="5.2" ry="3.6399999999999997" fill="#ea2a1c"/>
<ellipse cx="120" cy="30" rx="5.2" ry="3.9000000000000004" fill="#ea2a1c"/>
<ellipse cx="140.6" cy="27.7" rx="5.59" ry="4.55" fill="#f07a24"/>
<ellipse cx="157.9" cy="27.7" rx="13.0" ry="3.12" fill="#ea401c"/>
<ellipse cx="168" cy="27.5" rx="7.800000000000001" ry="3.12" fill="#e8361c"/>
<ellipse cx="86.9" cy="21.6" rx="4.55" ry="3.3800000000000003" fill="#c42016"/>
<ellipse cx="113.7" cy="18.2" rx="4.55" ry="2.8600000000000003" fill="#c42016"/>
<ellipse cx="143.2" cy="15.6" rx="4.55" ry="3.3800000000000003" fill="#c42016"/>
<ellipse cx="144" cy="19.9" rx="3.25" ry="3.25" fill="#c42016"/>
<ellipse cx="94.7" cy="26" rx="2.6" ry="1.9500000000000002" fill="#c42016"/>
<ellipse cx="82.6" cy="41.5" rx="4.55" ry="3.9000000000000004" fill="#ea2a1c"/>
<ellipse cx="119" cy="39" rx="3.25" ry="2.6" fill="#6e180e"/>
<ellipse cx="124.1" cy="52.8" rx="4.55" ry="5.07" fill="#ea2a1c"/>
<ellipse cx="99" cy="52" rx="3.25" ry="2.6" fill="#6e180e"/>
<ellipse cx="83.5" cy="51" rx="3.25" ry="2.6" fill="#6e180e"/>
<ellipse cx="154.4" cy="50.2" rx="3.9000000000000004" ry="3.25" fill="#6e180e"/>
<ellipse cx="170" cy="25" rx="7.800000000000001" ry="3.25" fill="#e8381c"/>
<ellipse cx="187.5" cy="25.1" rx="10.4" ry="3.9000000000000004" fill="#ee5a1e"/>
<ellipse cx="211.7" cy="25.1" rx="9.1" ry="3.9000000000000004" fill="#f2802a"/>
<ellipse cx="230.8" cy="22.5" rx="10.4" ry="3.3800000000000003" fill="#e8361c"/>
<ellipse cx="249.8" cy="21.6" rx="7.800000000000001" ry="3.3800000000000003" fill="#e8341c"/>
<ellipse cx="196.2" cy="26" rx="6.5" ry="3.25" fill="#ee4c1c"/>
<ellipse cx="210" cy="29.4" rx="3.9000000000000004" ry="3.25" fill="#ea2a1c"/>
<ellipse cx="197.9" cy="32.9" rx="3.9000000000000004" ry="3.25" fill="#ea2a1c"/>
<ellipse cx="202.2" cy="39" rx="3.25" ry="3.25" fill="#c42016"/>
<ellipse cx="211.7" cy="38" rx="3.25" ry="3.25" fill="#c42016"/>
<ellipse cx="213.5" cy="45.9" rx="3.3800000000000003" ry="2.8600000000000003" fill="#ea2a1c"/>
<ellipse cx="173.7" cy="49.3" rx="5.59" ry="2.8600000000000003" fill="#ea2a1c"/>
<ellipse cx="180.6" cy="48.5" rx="3.9000000000000004" ry="2.6" fill="#c42016"/>
<ellipse cx="234.2" cy="45.9" rx="3.9000000000000004" ry="2.6" fill="#6e180e"/>
<ellipse cx="249.8" cy="31.2" rx="3.9000000000000004" ry="3.25" fill="#6e180e"/>
<ellipse cx="167.6" cy="13.8" rx="1.9500000000000002" ry="1.9500000000000002" fill="#c42016"/>
<ellipse cx="191" cy="46.7" rx="3.9000000000000004" ry="2.6" fill="#6e180e"/>
</g>

<text x="2.8" y="14.6" font-family='"Liberation Sans", sans-serif' font-size="16.4" letter-spacing="0.35" fill="#fff">35 hpf</text>
<text x="253" y="14.4" text-anchor="end" font-family='"Liberation Sans", sans-serif' font-size="16.4" letter-spacing="0.2" fill="#fff">Vegfa MO</text>
</svg>
<svg x="8" y="250" width="512" height="98" viewBox="0 0 512 98" overflow="hidden">
<rect width="512" height="98" fill="#0c140c"/>
<g filter="url(#blur2)"><rect x="0" y="27" width="512" height="10" fill="#2a2a0c" opacity="0.6"/><rect x="0" y="61" width="512" height="2" fill="#2a6a2a" opacity="0.3"/><rect x="0" y="33" width="512" height="2" fill="#2a6a2a" opacity="0.4"/><rect x="0" y="74" width="256" height="24" fill="#5a140a" opacity="0.85"/><rect x="256" y="78" width="256" height="20" fill="#4a120a" opacity="0.8"/><rect x="260" y="10" width="40" height="3" fill="#2a5a2a" opacity="0.5"/></g><g filter="url(#blur15)"><ellipse cx="6.5" cy="79.9" rx="5.5" ry="4.0" fill="#e62e1e" opacity="0.9"/><ellipse cx="47.8" cy="78.4" rx="6.6" ry="3.5" fill="#e62e1e" opacity="0.9"/><ellipse cx="71.7" cy="78.3" rx="6.5" ry="3.1" fill="#e62e1e" opacity="0.9"/><ellipse cx="96.7" cy="80.6" rx="5.2" ry="3.1" fill="#e62e1e" opacity="0.9"/><ellipse cx="102.9" cy="80.5" rx="7.5" ry="3.2" fill="#e62e1e" opacity="0.9"/><ellipse cx="135.5" cy="79.3" rx="6.9" ry="4.4" fill="#e62e1e" opacity="0.9"/><ellipse cx="152.9" cy="81.5" rx="6.2" ry="4.5" fill="#e62e1e" opacity="0.9"/><ellipse cx="183.3" cy="78.3" rx="7.6" ry="3.4" fill="#e62e1e" opacity="0.9"/><ellipse cx="193.5" cy="78.9" rx="5.4" ry="3.5" fill="#e62e1e" opacity="0.9"/><ellipse cx="211" cy="82.9" rx="5.5" ry="3.9" fill="#e62e1e" opacity="0.9"/><ellipse cx="247.9" cy="81.8" rx="6.1" ry="3.8" fill="#e62e1e" opacity="0.9"/><ellipse cx="282.7" cy="82.3" rx="5.2" ry="3.3" fill="#d42a1c" opacity="0.7"/><ellipse cx="292.9" cy="85.4" rx="6.3" ry="3.5" fill="#d42a1c" opacity="0.7"/><ellipse cx="303.7" cy="84.9" rx="6.4" ry="3.4" fill="#d42a1c" opacity="0.7"/><ellipse cx="336.3" cy="86.0" rx="7.1" ry="3.4" fill="#d42a1c" opacity="0.7"/><ellipse cx="377.7" cy="84.9" rx="6.6" ry="4.3" fill="#d42a1c" opacity="0.7"/><ellipse cx="409.6" cy="85.6" rx="5.9" ry="4.5" fill="#d42a1c" opacity="0.7"/><ellipse cx="427" cy="82.6" rx="6.3" ry="4.1" fill="#d42a1c" opacity="0.7"/><ellipse cx="464" cy="82.8" rx="6.5" ry="3.1" fill="#d42a1c" opacity="0.7"/><ellipse cx="468.3" cy="85.3" rx="7.3" ry="3.9" fill="#d42a1c" opacity="0.7"/><ellipse cx="416.3" cy="86.4" rx="5.9" ry="4.0" fill="#d42a1c" opacity="0.7"/><ellipse cx="477.2" cy="85.0" rx="6.7" ry="3.7" fill="#d42a1c" opacity="0.7"/><ellipse cx="503.3" cy="86.2" rx="7.8" ry="3.7" fill="#d42a1c" opacity="0.7"/><ellipse cx="340.0" cy="79.9" rx="3.9" ry="3.5" fill="#c02418" opacity="0.49"/><ellipse cx="420.8" cy="83.3" rx="4.0" ry="1.5" fill="#c02418" opacity="0.37"/><ellipse cx="236.4" cy="77.9" rx="2.2" ry="3.0" fill="#c02418" opacity="0.36"/><ellipse cx="66.2" cy="79.2" rx="4.6" ry="1.7" fill="#c02418" opacity="0.50"/><ellipse cx="230.0" cy="84.3" rx="4.5" ry="3.2" fill="#c02418" opacity="0.74"/><ellipse cx="142.6" cy="82.1" rx="4.7" ry="3.4" fill="#c02418" opacity="0.48"/><ellipse cx="77.3" cy="78.0" rx="2.7" ry="2.5" fill="#c02418" opacity="0.42"/><ellipse cx="301.6" cy="82.9" rx="3.3" ry="2.2" fill="#c02418" opacity="0.23"/><ellipse cx="290.0" cy="93.3" rx="3.5" ry="2.7" fill="#c02418" opacity="0.48"/><ellipse cx="346.2" cy="79.8" rx="4.3" ry="3.2" fill="#c02418" opacity="0.56"/><ellipse cx="408.5" cy="84.9" rx="2.3" ry="2.8" fill="#c02418" opacity="0.37"/><ellipse cx="31.9" cy="76.1" rx="2.5" ry="2.2" fill="#c02418" opacity="0.40"/><ellipse cx="26.9" cy="75.0" rx="2.3" ry="2.2" fill="#c02418" opacity="0.38"/><ellipse cx="13.1" cy="89.9" rx="2.4" ry="2.0" fill="#c02418" opacity="0.61"/><ellipse cx="177.9" cy="81.2" rx="4.5" ry="3.5" fill="#c02418" opacity="0.36"/><ellipse cx="238.6" cy="83.2" rx="2.3" ry="2.2" fill="#c02418" opacity="0.34"/><ellipse cx="135.6" cy="89.1" rx="2.1" ry="3.4" fill="#c02418" opacity="0.38"/><ellipse cx="270.5" cy="81.2" rx="2.1" ry="2.6" fill="#c02418" opacity="0.43"/><ellipse cx="501.0" cy="91.9" rx="2.8" ry="2.2" fill="#c02418" opacity="0.49"/><ellipse cx="85.5" cy="88.1" rx="4.3" ry="2.2" fill="#c02418" opacity="0.57"/><ellipse cx="114.2" cy="88.8" rx="4.6" ry="3.1" fill="#c02418" opacity="0.79"/><ellipse cx="419.0" cy="90.1" rx="3.6" ry="2.2" fill="#c02418" opacity="0.31"/><ellipse cx="14.8" cy="75.5" rx="2.8" ry="2.9" fill="#c02418" opacity="0.44"/><ellipse cx="489.7" cy="85.7" rx="5.0" ry="3.4" fill="#c02418" opacity="0.58"/><ellipse cx="186.7" cy="78.7" rx="2.6" ry="1.9" fill="#c02418" opacity="0.41"/><ellipse cx="319.5" cy="92.5" rx="3.4" ry="2.8" fill="#c02418" opacity="0.54"/><ellipse cx="409.4" cy="80.3" rx="4.7" ry="3.1" fill="#c02418" opacity="0.47"/><ellipse cx="384.1" cy="86.2" rx="4.4" ry="2.2" fill="#c02418" opacity="0.29"/><ellipse cx="410.0" cy="93.6" rx="3.2" ry="3.4" fill="#c02418" opacity="0.37"/><ellipse cx="371.1" cy="81.6" rx="2.5" ry="3.3" fill="#c02418" opacity="0.27"/><ellipse cx="412.9" cy="81.2" rx="4.9" ry="2.8" fill="#c02418" opacity="0.53"/><ellipse cx="179.4" cy="84.3" rx="2.0" ry="3.4" fill="#c02418" opacity="0.37"/><ellipse cx="332.6" cy="86.9" rx="3.3" ry="3.2" fill="#c02418" opacity="0.58"/><ellipse cx="423.0" cy="82.2" rx="2.9" ry="2.0" fill="#c02418" opacity="0.32"/><ellipse cx="300.3" cy="82.9" rx="2.4" ry="3.3" fill="#c02418" opacity="0.38"/><ellipse cx="181.1" cy="82.8" rx="4.7" ry="2.3" fill="#c02418" opacity="0.59"/><ellipse cx="469.9" cy="86.5" rx="3.6" ry="1.5" fill="#c02418" opacity="0.42"/><ellipse cx="225.3" cy="78.1" rx="4.4" ry="1.8" fill="#c02418" opacity="0.30"/><ellipse cx="242.4" cy="87.3" rx="3.0" ry="2.5" fill="#c02418" opacity="0.58"/><ellipse cx="284.4" cy="90.8" rx="3.7" ry="2.0" fill="#c02418" opacity="0.26"/><ellipse cx="141.8" cy="88.1" rx="3.7" ry="3.0" fill="#c02418" opacity="0.55"/><ellipse cx="467.2" cy="85.6" rx="3.5" ry="2.5" fill="#c02418" opacity="0.45"/><ellipse cx="354.7" cy="85.8" rx="3.4" ry="3.4" fill="#c02418" opacity="0.42"/><ellipse cx="358.0" cy="92.1" rx="2.8" ry="2.6" fill="#c02418" opacity="0.58"/><ellipse cx="483.0" cy="91.6" rx="2.4" ry="2.4" fill="#c02418" opacity="0.28"/><ellipse cx="37.1" cy="79.1" rx="4.0" ry="3.1" fill="#c02418" opacity="0.34"/><ellipse cx="459.3" cy="81.3" rx="4.0" ry="1.8" fill="#c02418" opacity="0.49"/><ellipse cx="452.0" cy="93.5" rx="4.9" ry="2.3" fill="#c02418" opacity="0.31"/><ellipse cx="249.5" cy="91.8" rx="2.5" ry="2.4" fill="#c02418" opacity="0.72"/><ellipse cx="264.0" cy="84.1" rx="3.0" ry="2.9" fill="#c02418" opacity="0.30"/><ellipse cx="10.0" cy="84.4" rx="2.1" ry="2.2" fill="#c02418" opacity="0.52"/><ellipse cx="319.5" cy="86.7" rx="5.0" ry="3.1" fill="#c02418" opacity="0.25"/><ellipse cx="497.5" cy="80.6" rx="2.1" ry="3.1" fill="#c02418" opacity="0.32"/><ellipse cx="138.5" cy="77.2" rx="4.7" ry="3.1" fill="#c02418" opacity="0.51"/><ellipse cx="132.4" cy="77.5" rx="3.7" ry="2.9" fill="#c02418" opacity="0.76"/><ellipse cx="45.8" cy="76.0" rx="3.3" ry="1.6" fill="#c02418" opacity="0.64"/><ellipse cx="480.4" cy="88.5" rx="2.3" ry="3.2" fill="#c02418" opacity="0.53"/><ellipse cx="34.1" cy="89.7" rx="3.0" ry="2.6" fill="#c02418" opacity="0.53"/><ellipse cx="474.5" cy="83.0" rx="3.6" ry="2.0" fill="#c02418" opacity="0.27"/><ellipse cx="56.0" cy="77.7" rx="2.6" ry="2.1" fill="#c02418" opacity="0.33"/><ellipse cx="156.2" cy="87.9" rx="3.5" ry="1.9" fill="#c02418" opacity="0.44"/><ellipse cx="177.7" cy="75.3" rx="2.0" ry="3.0" fill="#c02418" opacity="0.43"/><ellipse cx="282.1" cy="81.8" rx="4.8" ry="1.7" fill="#c02418" opacity="0.40"/><ellipse cx="419.3" cy="85.5" rx="4.5" ry="2.3" fill="#c02418" opacity="0.41"/><ellipse cx="259.4" cy="89.3" rx="3.0" ry="3.2" fill="#c02418" opacity="0.59"/><ellipse cx="361.8" cy="88.5" rx="3.0" ry="1.6" fill="#c02418" opacity="0.38"/><ellipse cx="66.5" cy="76.2" rx="2.8" ry="1.8" fill="#c02418" opacity="0.67"/><ellipse cx="43.3" cy="89.3" rx="4.0" ry="2.1" fill="#c02418" opacity="0.74"/><ellipse cx="124.0" cy="80.0" rx="2.5" ry="2.4" fill="#c02418" opacity="0.53"/><ellipse cx="134.8" cy="91.4" rx="3.6" ry="2.0" fill="#c02418" opacity="0.79"/><ellipse cx="494.4" cy="83.6" rx="2.0" ry="2.3" fill="#c02418" opacity="0.36"/><ellipse cx="243.0" cy="83.5" rx="3.5" ry="1.5" fill="#c02418" opacity="0.40"/><ellipse cx="135.3" cy="76.5" rx="2.1" ry="1.5" fill="#c02418" opacity="0.50"/><ellipse cx="155.8" cy="79.0" rx="3.6" ry="3.0" fill="#c02418" opacity="0.59"/><ellipse cx="336.7" cy="89.7" rx="3.2" ry="2.2" fill="#c02418" opacity="0.55"/><ellipse cx="504.2" cy="81.2" rx="3.9" ry="1.6" fill="#c02418" opacity="0.50"/><ellipse cx="427.7" cy="92.4" rx="4.2" ry="3.1" fill="#c02418" opacity="0.46"/><ellipse cx="71.3" cy="83.9" rx="4.5" ry="3.1" fill="#c02418" opacity="0.55"/><ellipse cx="423.1" cy="87.8" rx="4.0" ry="2.9" fill="#c02418" opacity="0.56"/><ellipse cx="117.7" cy="75.5" rx="3.1" ry="1.7" fill="#c02418" opacity="0.37"/><ellipse cx="427.9" cy="87.4" rx="3.9" ry="2.9" fill="#c02418" opacity="0.46"/><ellipse cx="250.5" cy="75.1" rx="4.2" ry="2.5" fill="#c02418" opacity="0.70"/><ellipse cx="274.0" cy="88.9" rx="4.2" ry="2.0" fill="#c02418" opacity="0.25"/><ellipse cx="38.1" cy="79.5" rx="2.6" ry="3.0" fill="#c02418" opacity="0.66"/><ellipse cx="499.6" cy="86.4" rx="3.4" ry="2.9" fill="#c02418" opacity="0.37"/><ellipse cx="392.7" cy="88.3" rx="2.2" ry="1.8" fill="#c02418" opacity="0.47"/><ellipse cx="130.0" cy="87.6" rx="3.7" ry="1.5" fill="#c02418" opacity="0.45"/><ellipse cx="31.1" cy="79.6" rx="4.1" ry="2.9" fill="#c02418" opacity="0.64"/><ellipse cx="148.9" cy="83.8" rx="3.4" ry="1.7" fill="#c02418" opacity="0.53"/><ellipse cx="457.6" cy="82.0" rx="4.8" ry="1.5" fill="#c02418" opacity="0.59"/><ellipse cx="235.0" cy="88.9" rx="3.3" ry="2.0" fill="#c02418" opacity="0.78"/><ellipse cx="107.4" cy="91.1" rx="3.7" ry="1.8" fill="#c02418" opacity="0.41"/><ellipse cx="268.3" cy="93.3" rx="4.5" ry="2.5" fill="#c02418" opacity="0.27"/><ellipse cx="454.1" cy="89.6" rx="4.7" ry="2.5" fill="#c02418" opacity="0.31"/><ellipse cx="12.7" cy="75.1" rx="3.4" ry="2.1" fill="#c02418" opacity="0.55"/><ellipse cx="72.0" cy="80.8" rx="4.5" ry="1.5" fill="#c02418" opacity="0.46"/><ellipse cx="384.4" cy="91.6" rx="4.8" ry="2.9" fill="#c02418" opacity="0.27"/><ellipse cx="461.6" cy="83.3" rx="3.2" ry="3.5" fill="#c02418" opacity="0.36"/><ellipse cx="301.7" cy="84.4" rx="2.8" ry="1.6" fill="#c02418" opacity="0.39"/><ellipse cx="52.1" cy="89.2" rx="4.8" ry="2.0" fill="#c02418" opacity="0.44"/><ellipse cx="136.1" cy="83.7" rx="3.1" ry="3.4" fill="#c02418" opacity="0.39"/><ellipse cx="452.7" cy="91.2" rx="4.7" ry="3.4" fill="#c02418" opacity="0.46"/><ellipse cx="281.2" cy="89.8" rx="4.2" ry="2.4" fill="#c02418" opacity="0.24"/><ellipse cx="385.4" cy="88.7" rx="2.1" ry="3.4" fill="#c02418" opacity="0.33"/><ellipse cx="65.2" cy="83.0" rx="2.9" ry="3.0" fill="#c02418" opacity="0.47"/><ellipse cx="499.9" cy="82.9" rx="2.9" ry="2.6" fill="#c02418" opacity="0.47"/><ellipse cx="201.9" cy="77.8" rx="2.6" ry="3.3" fill="#c02418" opacity="0.38"/><ellipse cx="254.5" cy="78.7" rx="5.0" ry="2.4" fill="#c02418" opacity="0.75"/><ellipse cx="71.5" cy="78.3" rx="3.0" ry="1.7" fill="#c02418" opacity="0.35"/><ellipse cx="122.4" cy="79.4" rx="4.7" ry="3.0" fill="#c02418" opacity="0.58"/></g>
<g filter="url(#blur)">
<ellipse cx="20.7" cy="33.7" rx="7.15" ry="2.9700000000000006" fill="#ee4c1c"/>
<ellipse cx="35.9" cy="30.4" rx="5.940000000000001" ry="4.73" fill="url(#yg)"/>
<ellipse cx="43.5" cy="34.8" rx="2.75" ry="2.2" fill="#ea2a1c"/>
<ellipse cx="58.7" cy="26.1" rx="5.5" ry="4.95" fill="#ea2a1c"/>
<ellipse cx="50" cy="29.3" rx="2.75" ry="2.2" fill="#ee4c1c"/>
<ellipse cx="73.9" cy="30.4" rx="4.73" ry="2.9700000000000006" fill="#ee4c1c"/>
<ellipse cx="82.6" cy="34.8" rx="5.940000000000001" ry="2.4200000000000004" fill="#f07a20"/>
<ellipse cx="92.5" cy="30" rx="3.3000000000000003" ry="3.8500000000000005" fill="#ea2a1c"/>
<ellipse cx="96.5" cy="29.3" rx="4.18" ry="4.4" fill="url(#gg)"/>
<ellipse cx="1" cy="33.7" rx="2.2" ry="3.3000000000000003" fill="#ea2a1c"/>
<ellipse cx="53.3" cy="3.3" rx="2.75" ry="2.75" fill="#ea2a1c"/>
<ellipse cx="83.7" cy="45.7" rx="3.63" ry="4.18" fill="#c42016"/>
<ellipse cx="69.6" cy="56.5" rx="4.73" ry="3.63" fill="#ea2a1c"/>
<ellipse cx="33.7" cy="62" rx="7.15" ry="2.4200000000000004" fill="#ee4c1c"/>
<ellipse cx="131.1" cy="1.7" rx="2.9700000000000006" ry="2.4200000000000004" fill="#ea2a1c"/>
<ellipse cx="125.7" cy="10.4" rx="4.73" ry="3.5200000000000005" fill="#ea2a1c"/>
<ellipse cx="153.5" cy="8.7" rx="4.18" ry="6.6000000000000005" fill="#ea2a1c" transform="rotate(-10 153.5 8.7)"/>
<ellipse cx="160.5" cy="20.7" rx="3.63" ry="7.15" fill="#ea2a1c" transform="rotate(10 160.5 20.7)"/>
<ellipse cx="124.2" cy="30.4" rx="4.18" ry="3.5200000000000005" fill="#ea2a1c"/>
<ellipse cx="117" cy="37" rx="5.390000000000001" ry="2.9700000000000006" fill="#ea2a1c"/>
<ellipse cx="147.4" cy="32.6" rx="5.940000000000001" ry="2.9700000000000006" fill="url(#og)"/>
<ellipse cx="171.3" cy="35.9" rx="5.5" ry="4.18" fill="url(#og)"/>
<ellipse cx="137.6" cy="34.8" rx="2.75" ry="1.6500000000000001" fill="#2e9a2e"/>
<ellipse cx="184.4" cy="45.7" rx="5.390000000000001" ry="4.18" fill="#9a2014"/>
<ellipse cx="121.3" cy="58.3" rx="5.940000000000001" ry="4.73" fill="#ea2a1c" transform="rotate(20 121.3 58.3)"/>
<ellipse cx="130" cy="64.1" rx="5.390000000000001" ry="2.4200000000000004" fill="#f7a424"/>
<ellipse cx="154" cy="63" rx="4.73" ry="2.2" fill="#f7a424"/>
<ellipse cx="172" cy="60.9" rx="7.15" ry="4.73" fill="#ea2a1c"/>
<ellipse cx="101.8" cy="63" rx="2.75" ry="1.32" fill="#2e9a2e"/>
<ellipse cx="179" cy="31.5" rx="2.75" ry="2.2" fill="#a06020"/>
<ellipse cx="240.3" cy="7.6" rx="6.6000000000000005" ry="2.75" fill="#ea2a1c" transform="rotate(20 240.3 7.6)"/>
<ellipse cx="203.3" cy="34.8" rx="5.5" ry="2.9700000000000006" fill="#ea2a1c"/>
<ellipse cx="231.6" cy="39.1" rx="4.73" ry="4.73" fill="#ea2a1c"/>
<ellipse cx="229.4" cy="34.8" rx="3.3000000000000003" ry="2.75" fill="#ea2a1c"/>
<ellipse cx="239.2" cy="31.5" rx="4.18" ry="2.9700000000000006" fill="#40c040"/>
<ellipse cx="249" cy="30.4" rx="4.18" ry="2.9700000000000006" fill="#ea2a1c"/>
<ellipse cx="245.7" cy="38" rx="7.15" ry="3.5200000000000005" fill="#ea2a1c"/>
<ellipse cx="269.6" cy="26" rx="4.18" ry="3.5200000000000005" fill="#c42016"/>
<ellipse cx="275" cy="33.7" rx="5.390000000000001" ry="3.5200000000000005" fill="#ee4c1c"/>
<ellipse cx="284.8" cy="33.7" rx="3.63" ry="4.18" fill="#f37a22"/>
<ellipse cx="188" cy="46.7" rx="2.2" ry="3.3000000000000003" fill="#ea2a1c"/>
<ellipse cx="200" cy="61" rx="4.73" ry="3.5200000000000005" fill="#ea2a1c"/>
<ellipse cx="214.2" cy="63" rx="6.6000000000000005" ry="3.5200000000000005" fill="#ea2a1c"/>
<ellipse cx="244.6" cy="64.1" rx="4.73" ry="2.4200000000000004" fill="#ea2a1c"/>
<ellipse cx="255.5" cy="63.5" rx="4.73" ry="2.4200000000000004" fill="#ea2a1c"/>
<ellipse cx="338.5" cy="15.2" rx="2.9700000000000006" ry="4.95" fill="#ea2a1c"/>
<ellipse cx="373.3" cy="14.1" rx="4.18" ry="2.9700000000000006" fill="#ea2a1c"/>
<ellipse cx="328.7" cy="7.6" rx="1.6500000000000001" ry="2.2" fill="#a06020"/>
<ellipse cx="288.5" cy="33.7" rx="6.6000000000000005" ry="3.8500000000000005" fill="#ee4c1c"/>
<ellipse cx="321.1" cy="39.1" rx="12.100000000000001" ry="3.9600000000000004" fill="url(#og)"/>
<ellipse cx="347.2" cy="39.1" rx="8.25" ry="3.3000000000000003" fill="#ee4c1c" transform="rotate(10 347.2 39.1)"/>
<ellipse cx="364.6" cy="42.4" rx="5.390000000000001" ry="4.73" fill="#ea2a1c"/>
<ellipse cx="374.4" cy="34.8" rx="5.390000000000001" ry="4.73" fill="#ea2a1c" transform="rotate(-30 374.4 34.8)"/>
<ellipse cx="350.5" cy="60.9" rx="3.63" ry="3.63" fill="#ea2a1c"/>
<ellipse cx="299.4" cy="68.5" rx="4.73" ry="2.4200000000000004" fill="#ea2a1c"/>
<ellipse cx="289.6" cy="67.4" rx="2.75" ry="2.2" fill="#c42016"/>
<ellipse cx="377.7" cy="59.8" rx="2.75" ry="3.3000000000000003" fill="#ea2a1c"/>
<ellipse cx="406.3" cy="4.8" rx="5.390000000000001" ry="2.4200000000000004" fill="#ea2a1c" transform="rotate(30 406.3 4.8)"/>
<ellipse cx="394.4" cy="12" rx="2.9700000000000006" ry="4.73" fill="#ea2a1c"/>
<ellipse cx="416.1" cy="13.5" rx="4.73" ry="2.4200000000000004" fill="#ea2a1c"/>
<ellipse cx="431.3" cy="11.3" rx="4.73" ry="2.4200000000000004" fill="#ea2a1c"/>
<ellipse cx="405.3" cy="19.6" rx="4.4" ry="1.6500000000000001" fill="#c42016" transform="rotate(-30 405.3 19.6)"/>
<ellipse cx="393.3" cy="27.2" rx="4.18" ry="3.63" fill="#ea2a1c"/>
<ellipse cx="408.5" cy="29.3" rx="3.63" ry="3.63" fill="#f7a424"/>
<ellipse cx="418.3" cy="28.3" rx="5.390000000000001" ry="4.73" fill="#ea2a1c"/>
<ellipse cx="378" cy="32.6" rx="2.2" ry="3.3000000000000003" fill="#ea2a1c"/>
<ellipse cx="387.9" cy="33.7" rx="5.5" ry="2.9700000000000006" fill="url(#yg)"/>
<ellipse cx="400.9" cy="34.8" rx="7.15" ry="2.9700000000000006" fill="url(#yg)"/>
<ellipse cx="409.6" cy="39.1" rx="4.18" ry="2.9700000000000006" fill="#ea2a1c"/>
<ellipse cx="422.7" cy="37" rx="4.73" ry="1.7600000000000002" fill="#2e9a2e"/>
<ellipse cx="440" cy="38" rx="7.15" ry="4.73" fill="url(#yg)"/>
<ellipse cx="435.7" cy="44.6" rx="5.940000000000001" ry="4.18" fill="#ea2a1c"/>
<ellipse cx="452" cy="26.1" rx="3.63" ry="5.390000000000001" fill="#ea2a1c"/>
<ellipse cx="452" cy="34.8" rx="4.73" ry="3.63" fill="#ea2a1c"/>
<ellipse cx="462.9" cy="41.3" rx="4.73" ry="4.18" fill="#ea2a1c"/>
<ellipse cx="469.4" cy="34.8" rx="5.940000000000001" ry="3.63" fill="#ea2a1c"/>
<ellipse cx="403.1" cy="63" rx="8.36" ry="4.18" fill="#ea2a1c" transform="rotate(-10 403.1 63)"/>
<ellipse cx="435.7" cy="63" rx="6.6000000000000005" ry="3.63" fill="#ea2a1c"/>
<ellipse cx="459.6" cy="65.2" rx="5.390000000000001" ry="5.5" fill="#ea2a1c"/>
<ellipse cx="379.2" cy="58.7" rx="3.3000000000000003" ry="2.2" fill="#c42016"/>
<ellipse cx="448.7" cy="62" rx="2.2" ry="1.6500000000000001" fill="#c42016"/>
<ellipse cx="483.7" cy="32.6" rx="5.940000000000001" ry="3.63" fill="#ea2a1c" transform="rotate(-30 483.7 32.6)"/>
<ellipse cx="494.6" cy="29.3" rx="4.73" ry="2.9700000000000006" fill="#ea2a1c" transform="rotate(-30 494.6 29.3)"/>
<ellipse cx="502.2" cy="33.7" rx="3.63" ry="4.18" fill="#ee4c1c"/>
<ellipse cx="507.7" cy="34.8" rx="3.63" ry="2.9700000000000006" fill="url(#gg)"/>
<ellipse cx="501.1" cy="43.5" rx="5.940000000000001" ry="3.63" fill="#ea2a1c"/>
<ellipse cx="507.7" cy="45.7" rx="3.3000000000000003" ry="3.3000000000000003" fill="#ea2a1c"/>
<ellipse cx="482.7" cy="56.1" rx="5.390000000000001" ry="5.5" fill="#ea2a1c"/>
<ellipse cx="499" cy="64.1" rx="3.63" ry="1.7600000000000002" fill="#f7a424"/>
<ellipse cx="508.7" cy="65.2" rx="3.63" ry="1.7600000000000002" fill="#f7a424"/>
<ellipse cx="472.9" cy="41.3" rx="2.75" ry="2.75" fill="#ea2a1c"/>
<ellipse cx="489.2" cy="4.3" rx="2.2" ry="2.2" fill="#c42016"/>
</g>
<g filter="url(#blur15)" style="mix-blend-mode:screen"><rect x="0" y="61.5" width="512" height="1.6" fill="#2a8a2a" opacity="0.35"/><rect x="0" y="34" width="512" height="1.8" fill="#2a8a2a" opacity="0.45"/></g>
<text x="6.6" y="17.2" font-family='"Liberation Sans", sans-serif' font-size="16.4" letter-spacing="0.35" fill="#fff">48 hpf</text>
<text x="508.8" y="17.3" text-anchor="end" font-family='"Liberation Sans", sans-serif' font-size="16.4" letter-spacing="0.2" fill="#fff">Ctrl MO</text>
</svg>
<svg x="8" y="353" width="512" height="98" viewBox="0 0 512 98" overflow="hidden">
<rect width="512" height="98" fill="#0a0a06"/>
<defs><linearGradient id="c2v" x1="0" x2="0" y1="0" y2="1"><stop offset="0" stop-color="#060504"/><stop offset="0.15" stop-color="#100805"/><stop offset="0.45" stop-color="#1a1208"/><stop offset="0.7" stop-color="#1c1008"/><stop offset="0.78" stop-color="#2e1209"/><stop offset="1" stop-color="#3a140a"/></linearGradient><linearGradient id="c2h" x1="0" x2="1" y1="0" y2="0"><stop offset="0" stop-color="#000" stop-opacity="0"/><stop offset="0.6" stop-color="#000" stop-opacity="0.1"/><stop offset="1" stop-color="#000" stop-opacity="0.6"/></linearGradient></defs><rect width="512" height="98" fill="url(#c2v)"/><rect width="512" height="98" fill="url(#c2h)"/><g filter="url(#blur15)"><ellipse cx="84.5" cy="60.0" rx="4.1" ry="3.0" fill="#5a140c" opacity="0.70"/><ellipse cx="243.0" cy="75.9" rx="3.0" ry="3.1" fill="#5a140c" opacity="0.31"/><ellipse cx="477.6" cy="44.8" rx="2.9" ry="3.5" fill="#5a140c" opacity="0.58"/><ellipse cx="223.7" cy="77.7" rx="4.4" ry="2.8" fill="#7a1c10" opacity="0.31"/><ellipse cx="168.4" cy="48.9" rx="2.8" ry="3.9" fill="#7a1c10" opacity="0.31"/><ellipse cx="379.4" cy="25.1" rx="4.5" ry="2.0" fill="#5a140c" opacity="0.52"/><ellipse cx="175.6" cy="48.1" rx="3.0" ry="2.1" fill="#5a140c" opacity="0.33"/><ellipse cx="101.1" cy="59.1" rx="4.5" ry="3.3" fill="#8a2214" opacity="0.70"/><ellipse cx="36.3" cy="52.5" rx="3.9" ry="2.8" fill="#7a1c10" opacity="0.67"/><ellipse cx="454.4" cy="43.8" rx="3.4" ry="2.9" fill="#7a1c10" opacity="0.43"/><ellipse cx="248.0" cy="35.4" rx="4.6" ry="2.3" fill="#8a2214" opacity="0.70"/><ellipse cx="254.0" cy="48.5" rx="3.9" ry="3.5" fill="#5a140c" opacity="0.53"/><ellipse cx="163.1" cy="76.8" rx="2.8" ry="3.3" fill="#8a2214" opacity="0.44"/><ellipse cx="474.7" cy="40.1" rx="4.0" ry="2.6" fill="#5a140c" opacity="0.37"/><ellipse cx="472.6" cy="30.1" rx="3.6" ry="2.3" fill="#5a140c" opacity="0.57"/><ellipse cx="460.1" cy="75.6" rx="3.5" ry="4.0" fill="#8a2214" opacity="0.54"/><ellipse cx="452.2" cy="48.5" rx="3.4" ry="2.5" fill="#5a140c" opacity="0.36"/><ellipse cx="35.5" cy="66.7" rx="4.4" ry="3.0" fill="#7a1c10" opacity="0.32"/><ellipse cx="132.1" cy="36.8" rx="3.5" ry="2.3" fill="#5a140c" opacity="0.65"/><ellipse cx="330.5" cy="28.5" rx="2.9" ry="3.5" fill="#5a140c" opacity="0.40"/><ellipse cx="490.9" cy="50.5" rx="4.3" ry="2.1" fill="#5a140c" opacity="0.66"/><ellipse cx="187.3" cy="28.9" rx="3.4" ry="3.5" fill="#7a1c10" opacity="0.53"/><ellipse cx="434.9" cy="37.9" rx="3.8" ry="2.6" fill="#8a2214" opacity="0.30"/><ellipse cx="350.9" cy="75.3" rx="2.6" ry="3.2" fill="#8a2214" opacity="0.40"/><ellipse cx="489.3" cy="44.4" rx="4.2" ry="3.5" fill="#5a140c" opacity="0.35"/><ellipse cx="48.6" cy="25.4" rx="2.6" ry="2.9" fill="#5a140c" opacity="0.33"/><ellipse cx="61.0" cy="36.3" rx="3.3" ry="3.9" fill="#7a1c10" opacity="0.50"/><ellipse cx="112.4" cy="29.6" rx="3.0" ry="2.8" fill="#8a2214" opacity="0.60"/><ellipse cx="387.6" cy="55.0" rx="3.8" ry="3.5" fill="#5a140c" opacity="0.62"/><ellipse cx="4.0" cy="46.9" rx="2.7" ry="3.5" fill="#5a140c" opacity="0.64"/><ellipse cx="119.5" cy="75.9" rx="4.0" ry="3.5" fill="#5a140c" opacity="0.46"/><ellipse cx="158.4" cy="72.2" rx="3.2" ry="3.0" fill="#8a2214" opacity="0.50"/><ellipse cx="293.4" cy="51.6" rx="2.7" ry="3.2" fill="#7a1c10" opacity="0.69"/><ellipse cx="158.8" cy="60.6" rx="3.8" ry="3.1" fill="#5a140c" opacity="0.55"/><ellipse cx="166.8" cy="31.7" rx="2.7" ry="3.3" fill="#7a1c10" opacity="0.34"/><ellipse cx="39.0" cy="24.3" rx="4.5" ry="3.5" fill="#7a1c10" opacity="0.50"/><ellipse cx="484.9" cy="59.4" rx="4.3" ry="2.9" fill="#8a2214" opacity="0.46"/><ellipse cx="205.6" cy="33.1" rx="2.6" ry="2.9" fill="#5a140c" opacity="0.41"/><ellipse cx="301.8" cy="43.5" rx="3.6" ry="3.6" fill="#7a1c10" opacity="0.45"/><ellipse cx="249.2" cy="56.6" rx="4.9" ry="2.2" fill="#7a1c10" opacity="0.37"/><ellipse cx="191.0" cy="55.1" rx="3.0" ry="2.9" fill="#8a2214" opacity="0.60"/><ellipse cx="342.0" cy="69.8" rx="4.2" ry="3.4" fill="#5a140c" opacity="0.49"/><ellipse cx="255.3" cy="37.7" rx="3.5" ry="3.0" fill="#8a2214" opacity="0.70"/><ellipse cx="3.3" cy="38.1" rx="3.3" ry="2.8" fill="#5a140c" opacity="0.34"/><ellipse cx="89.8" cy="50.3" rx="4.0" ry="2.8" fill="#8a2214" opacity="0.48"/><ellipse cx="55.4" cy="75.4" rx="4.3" ry="2.4" fill="#7a1c10" opacity="0.45"/><ellipse cx="297.8" cy="31.0" rx="2.7" ry="2.1" fill="#8a2214" opacity="0.40"/><ellipse cx="432.8" cy="28.9" rx="4.2" ry="2.4" fill="#8a2214" opacity="0.58"/><ellipse cx="366.7" cy="29.1" rx="3.5" ry="2.8" fill="#7a1c10" opacity="0.55"/><ellipse cx="143.7" cy="30.1" rx="3.5" ry="2.5" fill="#5a140c" opacity="0.69"/><ellipse cx="110.2" cy="40.3" rx="4.1" ry="3.7" fill="#7a1c10" opacity="0.31"/><ellipse cx="256.6" cy="22.3" rx="4.0" ry="3.4" fill="#5a140c" opacity="0.70"/><ellipse cx="482.1" cy="28.6" rx="4.9" ry="2.4" fill="#7a1c10" opacity="0.66"/><ellipse cx="189.5" cy="27.8" rx="4.5" ry="3.6" fill="#8a2214" opacity="0.64"/><ellipse cx="158.0" cy="44.2" rx="4.7" ry="2.5" fill="#8a2214" opacity="0.62"/><ellipse cx="431.9" cy="73.7" rx="4.7" ry="2.0" fill="#8a2214" opacity="0.33"/><ellipse cx="223.1" cy="68.3" rx="5.0" ry="3.3" fill="#5a140c" opacity="0.32"/><ellipse cx="417.4" cy="55.2" rx="4.1" ry="2.9" fill="#8a2214" opacity="0.44"/><ellipse cx="138.1" cy="40.5" rx="3.2" ry="3.3" fill="#5a140c" opacity="0.57"/><ellipse cx="95.4" cy="25.7" rx="4.6" ry="2.7" fill="#7a1c10" opacity="0.32"/><ellipse cx="19.0" cy="48.7" rx="4.2" ry="3.3" fill="#5a140c" opacity="0.31"/><ellipse cx="119.1" cy="40.8" rx="3.1" ry="2.4" fill="#5a140c" opacity="0.59"/><ellipse cx="268.6" cy="24.5" rx="4.6" ry="2.4" fill="#5a140c" opacity="0.59"/><ellipse cx="310.6" cy="56.7" rx="4.1" ry="2.0" fill="#7a1c10" opacity="0.50"/><ellipse cx="82.9" cy="69.4" rx="4.5" ry="3.8" fill="#8a2214" opacity="0.32"/><ellipse cx="348.6" cy="57.6" rx="4.0" ry="3.2" fill="#5a140c" opacity="0.69"/><ellipse cx="199.8" cy="74.6" rx="4.8" ry="3.6" fill="#5a140c" opacity="0.67"/><ellipse cx="88.8" cy="35.4" rx="2.6" ry="2.8" fill="#8a2214" opacity="0.36"/><ellipse cx="476.6" cy="51.1" rx="4.7" ry="2.4" fill="#8a2214" opacity="0.52"/><ellipse cx="397.1" cy="62.9" rx="4.7" ry="2.7" fill="#5a140c" opacity="0.40"/><ellipse cx="306.9" cy="40.4" rx="4.2" ry="3.7" fill="#8a2214" opacity="0.35"/><ellipse cx="13.8" cy="44.5" rx="4.0" ry="2.1" fill="#8a2214" opacity="0.60"/><ellipse cx="379.8" cy="32.3" rx="3.8" ry="2.7" fill="#8a2214" opacity="0.42"/><ellipse cx="82.5" cy="58.4" rx="4.0" ry="2.9" fill="#7a1c10" opacity="0.60"/><ellipse cx="333.2" cy="34.7" rx="3.6" ry="2.8" fill="#7a1c10" opacity="0.49"/><ellipse cx="20.7" cy="69.8" rx="3.0" ry="3.6" fill="#7a1c10" opacity="0.53"/><ellipse cx="411.0" cy="62.7" rx="4.3" ry="4.0" fill="#7a1c10" opacity="0.36"/><ellipse cx="16.8" cy="65.1" rx="4.7" ry="2.6" fill="#7a1c10" opacity="0.38"/><ellipse cx="116.4" cy="62.6" rx="4.5" ry="3.0" fill="#5a140c" opacity="0.31"/><ellipse cx="469.2" cy="27.7" rx="3.3" ry="2.7" fill="#8a2214" opacity="0.55"/><ellipse cx="306.4" cy="60.2" rx="4.7" ry="3.5" fill="#7a1c10" opacity="0.56"/><ellipse cx="375.9" cy="46.6" rx="2.8" ry="3.8" fill="#8a2214" opacity="0.64"/><ellipse cx="456.0" cy="24.5" rx="3.3" ry="3.3" fill="#5a140c" opacity="0.60"/><ellipse cx="478.8" cy="26.0" rx="4.0" ry="3.3" fill="#8a2214" opacity="0.38"/><ellipse cx="254.8" cy="61.4" rx="3.0" ry="3.4" fill="#7a1c10" opacity="0.67"/><ellipse cx="267.6" cy="20.5" rx="4.6" ry="2.6" fill="#7a1c10" opacity="0.58"/><ellipse cx="211.8" cy="27.1" rx="4.7" ry="3.3" fill="#5a140c" opacity="0.70"/><ellipse cx="119.0" cy="60.9" rx="3.7" ry="3.1" fill="#8a2214" opacity="0.45"/><ellipse cx="325.7" cy="56.9" rx="3.4" ry="2.7" fill="#7a1c10" opacity="0.55"/><ellipse cx="233.9" cy="49.8" rx="3.1" ry="3.6" fill="#5a140c" opacity="0.64"/><ellipse cx="459.6" cy="68.9" rx="4.4" ry="3.8" fill="#8a2214" opacity="0.33"/><ellipse cx="250.9" cy="29.6" rx="4.5" ry="2.7" fill="#7a1c10" opacity="0.42"/><ellipse cx="493.9" cy="46.5" rx="3.0" ry="2.0" fill="#5a140c" opacity="0.64"/><ellipse cx="113.2" cy="26.5" rx="3.8" ry="2.2" fill="#7a1c10" opacity="0.35"/><ellipse cx="63.5" cy="60.6" rx="3.0" ry="2.0" fill="#5a140c" opacity="0.39"/><ellipse cx="290.8" cy="34.2" rx="3.6" ry="3.6" fill="#8a2214" opacity="0.58"/><ellipse cx="416.0" cy="43.2" rx="4.9" ry="3.6" fill="#8a2214" opacity="0.44"/><ellipse cx="401.8" cy="22.0" rx="3.7" ry="3.8" fill="#8a2214" opacity="0.49"/><ellipse cx="19.4" cy="57.2" rx="4.4" ry="2.5" fill="#7a1c10" opacity="0.59"/><ellipse cx="271.7" cy="29.5" rx="3.4" ry="3.3" fill="#8a2214" opacity="0.41"/><ellipse cx="469.2" cy="37.0" rx="2.8" ry="3.2" fill="#7a1c10" opacity="0.43"/><ellipse cx="406.0" cy="63.7" rx="2.9" ry="2.6" fill="#5a140c" opacity="0.41"/><ellipse cx="346.7" cy="72.6" rx="2.6" ry="3.5" fill="#7a1c10" opacity="0.51"/><ellipse cx="54.4" cy="76.4" rx="3.0" ry="3.8" fill="#8a2214" opacity="0.38"/><ellipse cx="253.1" cy="37.7" rx="3.3" ry="2.4" fill="#5a140c" opacity="0.47"/><ellipse cx="102.5" cy="21.8" rx="3.0" ry="3.7" fill="#7a1c10" opacity="0.31"/><ellipse cx="396.0" cy="69.3" rx="4.9" ry="2.5" fill="#7a1c10" opacity="0.51"/><ellipse cx="192.2" cy="36.2" rx="4.0" ry="3.7" fill="#8a2214" opacity="0.45"/><ellipse cx="73.4" cy="41.3" rx="4.8" ry="3.3" fill="#7a1c10" opacity="0.57"/><ellipse cx="395.3" cy="59.2" rx="4.9" ry="3.8" fill="#5a140c" opacity="0.59"/><ellipse cx="490.6" cy="79.1" rx="5.1" ry="4.0" fill="#4a1a0c" opacity="0.51"/><ellipse cx="378.7" cy="95.3" rx="9.0" ry="2.2" fill="#5a2010" opacity="0.59"/><ellipse cx="163.6" cy="89.2" rx="9.7" ry="3.4" fill="#5a2010" opacity="0.51"/><ellipse cx="24.8" cy="95.4" rx="7.9" ry="2.6" fill="#4a1a0c" opacity="0.35"/><ellipse cx="57.1" cy="87.7" rx="8.6" ry="4.0" fill="#4a1a0c" opacity="0.51"/><ellipse cx="313.5" cy="81.7" rx="9.8" ry="2.6" fill="#4a1a0c" opacity="0.38"/><ellipse cx="138.5" cy="91.2" rx="7.2" ry="2.7" fill="#4a1a0c" opacity="0.43"/><ellipse cx="128.8" cy="82.3" rx="9.4" ry="2.8" fill="#4a1a0c" opacity="0.39"/><ellipse cx="191.4" cy="88.8" rx="6.5" ry="3.2" fill="#5a2010" opacity="0.53"/><ellipse cx="460.4" cy="85.4" rx="5.5" ry="2.9" fill="#4a1a0c" opacity="0.43"/><ellipse cx="206.2" cy="96.4" rx="9.8" ry="3.0" fill="#5a2010" opacity="0.30"/><ellipse cx="235.0" cy="80.3" rx="5.2" ry="2.8" fill="#4a1a0c" opacity="0.40"/><ellipse cx="182.9" cy="80.2" rx="5.2" ry="3.1" fill="#4a1a0c" opacity="0.50"/><ellipse cx="51.7" cy="80.3" rx="5.6" ry="2.3" fill="#5a2010" opacity="0.31"/><ellipse cx="61.5" cy="91.6" rx="5.7" ry="2.6" fill="#5a2010" opacity="0.44"/><ellipse cx="33.7" cy="91.7" rx="9.8" ry="2.2" fill="#5a2010" opacity="0.58"/><ellipse cx="9.3" cy="87.0" rx="8.2" ry="2.7" fill="#4a1a0c" opacity="0.49"/><ellipse cx="305.6" cy="91.4" rx="5.9" ry="2.2" fill="#4a1a0c" opacity="0.41"/><ellipse cx="60.5" cy="80.8" rx="6.3" ry="3.7" fill="#4a1a0c" opacity="0.31"/><ellipse cx="385.3" cy="88.8" rx="8.1" ry="2.8" fill="#4a1a0c" opacity="0.52"/><ellipse cx="473.6" cy="94.4" rx="5.2" ry="2.8" fill="#4a1a0c" opacity="0.36"/><ellipse cx="385.9" cy="90.0" rx="5.2" ry="3.4" fill="#5a2010" opacity="0.44"/><ellipse cx="127.5" cy="81.1" rx="6.3" ry="2.1" fill="#4a1a0c" opacity="0.35"/><ellipse cx="492.4" cy="83.0" rx="5.1" ry="2.3" fill="#5a2010" opacity="0.31"/><ellipse cx="249.2" cy="76.7" rx="8.8" ry="2.0" fill="#5a2010" opacity="0.55"/><ellipse cx="119.5" cy="87.8" rx="5.7" ry="2.7" fill="#4a1a0c" opacity="0.51"/><ellipse cx="311.5" cy="78.4" rx="9.2" ry="3.9" fill="#5a2010" opacity="0.38"/><ellipse cx="432.4" cy="81.8" rx="6.3" ry="3.1" fill="#5a2010" opacity="0.55"/><ellipse cx="261.1" cy="91.3" rx="9.1" ry="3.9" fill="#4a1a0c" opacity="0.45"/><ellipse cx="175.8" cy="95.3" rx="5.4" ry="3.3" fill="#4a1a0c" opacity="0.51"/><ellipse cx="43.9" cy="96.3" rx="6.7" ry="2.1" fill="#4a1a0c" opacity="0.36"/><ellipse cx="185.4" cy="97.0" rx="5.0" ry="2.6" fill="#4a1a0c" opacity="0.33"/><ellipse cx="259.4" cy="77.1" rx="8.2" ry="2.1" fill="#4a1a0c" opacity="0.58"/><ellipse cx="131.9" cy="82.7" rx="6.6" ry="3.8" fill="#5a2010" opacity="0.40"/><ellipse cx="346.2" cy="93.4" rx="5.3" ry="2.5" fill="#5a2010" opacity="0.50"/><ellipse cx="1.7" cy="81.3" rx="5.6" ry="2.6" fill="#4a1a0c" opacity="0.58"/><ellipse cx="57.7" cy="96.0" rx="9.1" ry="3.8" fill="#4a1a0c" opacity="0.44"/><ellipse cx="212.4" cy="83.8" rx="9.1" ry="2.6" fill="#4a1a0c" opacity="0.56"/><ellipse cx="491.0" cy="84.2" rx="5.2" ry="3.9" fill="#4a1a0c" opacity="0.33"/><ellipse cx="421.2" cy="92.5" rx="7.8" ry="2.9" fill="#5a2010" opacity="0.60"/><ellipse cx="420.0" cy="78.5" rx="7.4" ry="3.6" fill="#5a2010" opacity="0.32"/><ellipse cx="173.9" cy="84.4" rx="9.6" ry="3.2" fill="#5a2010" opacity="0.43"/><ellipse cx="275.8" cy="84.7" rx="7.3" ry="3.7" fill="#5a2010" opacity="0.41"/><ellipse cx="146.4" cy="76.2" rx="5.4" ry="2.3" fill="#5a2010" opacity="0.53"/><ellipse cx="40.8" cy="88.4" rx="9.0" ry="2.5" fill="#4a1a0c" opacity="0.31"/><ellipse cx="471.3" cy="88.9" rx="6.5" ry="2.5" fill="#4a1a0c" opacity="0.58"/><ellipse cx="172.7" cy="84.8" rx="7.8" ry="2.3" fill="#5a2010" opacity="0.50"/><ellipse cx="231.0" cy="93.6" rx="7.1" ry="3.6" fill="#4a1a0c" opacity="0.53"/><ellipse cx="115.4" cy="87.7" rx="8.4" ry="3.1" fill="#4a1a0c" opacity="0.48"/><ellipse cx="123.6" cy="86.1" rx="9.0" ry="4.0" fill="#4a1a0c" opacity="0.47"/></g>
<g filter="url(#blur)">
<ellipse cx="27.2" cy="21.7" rx="7.15" ry="2.9700000000000006" fill="#ea2a1c"/>
<ellipse cx="62" cy="19.1" rx="5.940000000000001" ry="4.18" fill="#ea2a1c"/>
<ellipse cx="87" cy="9.8" rx="2.9700000000000006" ry="4.73" fill="#ea2a1c"/>
<ellipse cx="92.4" cy="19.1" rx="5.390000000000001" ry="3.63" fill="#ea2a1c"/>
<ellipse cx="81.5" cy="25" rx="2.9700000000000006" ry="5.940000000000001" fill="#ea2a1c" transform="rotate(20 81.5 25)"/>
<ellipse cx="93.5" cy="34.8" rx="4.73" ry="5.390000000000001" fill="url(#og)"/>
<ellipse cx="7.6" cy="39.1" rx="5.940000000000001" ry="3.63" fill="#ea2a1c"/>
<ellipse cx="21.7" cy="37.4" rx="5.940000000000001" ry="3.63" fill="#ea2a1c"/>
<ellipse cx="32.6" cy="32.2" rx="7.15" ry="3.63" fill="#ea2a1c"/>
<ellipse cx="40.2" cy="35.9" rx="4.73" ry="3.63" fill="#ea2a1c"/>
<ellipse cx="46.7" cy="34.8" rx="5.940000000000001" ry="3.63" fill="#ea2a1c"/>
<ellipse cx="62" cy="32.6" rx="4.4" ry="3.3000000000000003" fill="#c42016"/>
<ellipse cx="71.7" cy="64.1" rx="6.6000000000000005" ry="2.9700000000000006" fill="#ea2a1c"/>
<ellipse cx="84.8" cy="67.4" rx="3.63" ry="5.940000000000001" fill="#ea2a1c" transform="rotate(15 84.8 67.4)"/>
<ellipse cx="42.4" cy="70" rx="4.73" ry="4.73" fill="#ea2a1c" transform="rotate(-30 42.4 70)"/>
<ellipse cx="27.2" cy="72.8" rx="4.18" ry="5.940000000000001" fill="#ea2a1c" transform="rotate(15 27.2 72.8)"/>
<ellipse cx="13" cy="66.3" rx="4.4" ry="3.3000000000000003" fill="#6e180e"/>
<ellipse cx="110.5" cy="24.3" rx="4.73" ry="2.9700000000000006" fill="#ea2a1c"/>
<ellipse cx="124.6" cy="26.1" rx="6.6000000000000005" ry="2.9700000000000006" fill="#ea2a1c"/>
<ellipse cx="139.8" cy="20.7" rx="4.4" ry="8.8" fill="#ea2a1c" transform="rotate(30 139.8 20.7)"/>
<ellipse cx="107.2" cy="33.7" rx="7.15" ry="2.9700000000000006" fill="#c42016"/>
<ellipse cx="122.4" cy="38.7" rx="4.18" ry="3.63" fill="#ea2a1c"/>
<ellipse cx="144.2" cy="37" rx="5.940000000000001" ry="4.18" fill="#ea2a1c"/>
<ellipse cx="158.3" cy="33.7" rx="5.940000000000001" ry="5.390000000000001" fill="#ea2a1c"/>
<ellipse cx="174.6" cy="39.1" rx="7.15" ry="3.63" fill="#ea2a1c"/>
<ellipse cx="181.1" cy="29.3" rx="5.390000000000001" ry="2.9700000000000006" fill="#ea2a1c"/>
<ellipse cx="167" cy="47.8" rx="4.73" ry="3.63" fill="#ea2a1c"/>
<ellipse cx="137.7" cy="45.7" rx="3.63" ry="3.63" fill="#ea2a1c"/>
<ellipse cx="124.6" cy="58.7" rx="4.73" ry="4.18" fill="#c42016"/>
<ellipse cx="148.5" cy="66.3" rx="4.18" ry="3.63" fill="#ea2a1c"/>
<ellipse cx="101.8" cy="64.1" rx="2.75" ry="2.75" fill="#c42016"/>
<ellipse cx="177.9" cy="58.7" rx="3.3000000000000003" ry="2.75" fill="#6e180e"/>
<ellipse cx="193.5" cy="30.4" rx="2.9700000000000006" ry="6.6000000000000005" fill="#ea2a1c" transform="rotate(15 193.5 30.4)"/>
<ellipse cx="209.8" cy="27.8" rx="5.940000000000001" ry="2.9700000000000006" fill="#ea2a1c"/>
<ellipse cx="224" cy="28.3" rx="5.390000000000001" ry="4.18" fill="#ea2a1c"/>
<ellipse cx="262" cy="23.9" rx="4.73" ry="6.6000000000000005" fill="#ea2a1c" transform="rotate(20 262 23.9)"/>
<ellipse cx="196.8" cy="44.6" rx="4.73" ry="3.63" fill="#ea2a1c"/>
<ellipse cx="238" cy="40.2" rx="6.6000000000000005" ry="3.63" fill="#ea2a1c"/>
<ellipse cx="249" cy="43.5" rx="5.940000000000001" ry="3.63" fill="#ee4c1c"/>
<ellipse cx="281.6" cy="39.1" rx="3.63" ry="5.390000000000001" fill="#ea2a1c"/>
<ellipse cx="271.8" cy="76" rx="3.3000000000000003" ry="2.75" fill="#6e180e"/>
<ellipse cx="300.5" cy="32.2" rx="5.390000000000001" ry="4.18" fill="#ea2a1c"/>
<ellipse cx="311.3" cy="44.6" rx="5.940000000000001" ry="2.4200000000000004" fill="#ea2a1c"/>
<ellipse cx="322.2" cy="39.1" rx="4.73" ry="3.63" fill="#c42016"/>
<ellipse cx="332" cy="43.5" rx="6.6000000000000005" ry="4.18" fill="#ea2a1c" transform="rotate(-15 332 43.5)"/>
<ellipse cx="353.7" cy="46.7" rx="7.15" ry="4.18" fill="#ea2a1c"/>
<ellipse cx="372.2" cy="31.5" rx="4.73" ry="4.18" fill="#ea2a1c"/>
<ellipse cx="295" cy="59.1" rx="4.18" ry="4.73" fill="#ea2a1c"/>
<ellipse cx="301.6" cy="70.7" rx="2.9700000000000006" ry="2.4200000000000004" fill="#ea2a1c"/>
<ellipse cx="308" cy="75" rx="3.63" ry="2.9700000000000006" fill="#ea2a1c"/>
<ellipse cx="298.3" cy="76.1" rx="3.63" ry="2.4200000000000004" fill="#ea2a1c"/>
<ellipse cx="373.3" cy="52.2" rx="3.63" ry="4.73" fill="#c42016"/>
<ellipse cx="367.9" cy="63" rx="3.3000000000000003" ry="2.75" fill="#6e180e"/>
<ellipse cx="367.9" cy="80.4" rx="3.8500000000000005" ry="2.75" fill="#6e180e"/>
<ellipse cx="325.5" cy="26" rx="2.75" ry="2.75" fill="#6e180e"/>
<ellipse cx="333" cy="33.7" rx="2.75" ry="2.75" fill="#6e180e"/>
<ellipse cx="383.5" cy="38" rx="3.63" ry="5.940000000000001" fill="#ea2a1c"/>
<ellipse cx="397.7" cy="39.1" rx="4.73" ry="3.63" fill="#ea2a1c"/>
<ellipse cx="407.4" cy="38" rx="5.390000000000001" ry="3.63" fill="#ea2a1c"/>
<ellipse cx="422.7" cy="37" rx="3.63" ry="2.9700000000000006" fill="#c42016"/>
<ellipse cx="450.9" cy="40.2" rx="4.73" ry="4.18" fill="#ea2a1c"/>
<ellipse cx="383.5" cy="51.1" rx="5.940000000000001" ry="3.63" fill="#c42016"/>
<ellipse cx="405.3" cy="51.1" rx="4.73" ry="3.63" fill="#c42016"/>
<ellipse cx="412.9" cy="53.3" rx="3.63" ry="3.63" fill="#ea2a1c"/>
<ellipse cx="422.7" cy="50" rx="3.63" ry="3.63" fill="#ea2a1c"/>
<ellipse cx="431.3" cy="52.2" rx="4.18" ry="4.73" fill="#ea2a1c"/>
<ellipse cx="449.8" cy="54.3" rx="4.73" ry="2.9700000000000006" fill="#c42016"/>
<ellipse cx="455.3" cy="65.2" rx="5.940000000000001" ry="4.18" fill="#ea2a1c"/>
<ellipse cx="440" cy="69.6" rx="3.3000000000000003" ry="2.75" fill="#6e180e"/>
<ellipse cx="379.2" cy="55.4" rx="3.3000000000000003" ry="2.75" fill="#6e180e"/>
<ellipse cx="480.5" cy="45.7" rx="4.73" ry="4.73" fill="#ea2a1c"/>
<ellipse cx="496.8" cy="42.4" rx="5.390000000000001" ry="3.63" fill="#ea2a1c"/>
<ellipse cx="502.2" cy="55.4" rx="3.63" ry="5.390000000000001" fill="#ea2a1c" transform="rotate(-20 502.2 55.4)"/>
<ellipse cx="422.9" cy="34.8" rx="3.3000000000000003" ry="2.75" fill="#6e180e"/>
<ellipse cx="440.3" cy="37" rx="3.3000000000000003" ry="2.75" fill="#6e180e"/>
</g>
<g filter="url(#blur15)" style="mix-blend-mode:screen"><rect x="440" y="31" width="72" height="3.5" fill="#2a7a2a" opacity="0.6"/><rect x="90" y="47" width="180" height="2" fill="#1a4a18" opacity="0.5"/></g>
<text x="6.6" y="17.7" font-family='"Liberation Sans", sans-serif' font-size="16.4" letter-spacing="0.35" fill="#fff">48 hpf</text>
<text x="508.9" y="18.2" text-anchor="end" font-family='"Liberation Sans", sans-serif' font-size="16.4" letter-spacing="0.2" fill="#fff">Runx1 MO</text>
</svg>
</svg></body></html>
